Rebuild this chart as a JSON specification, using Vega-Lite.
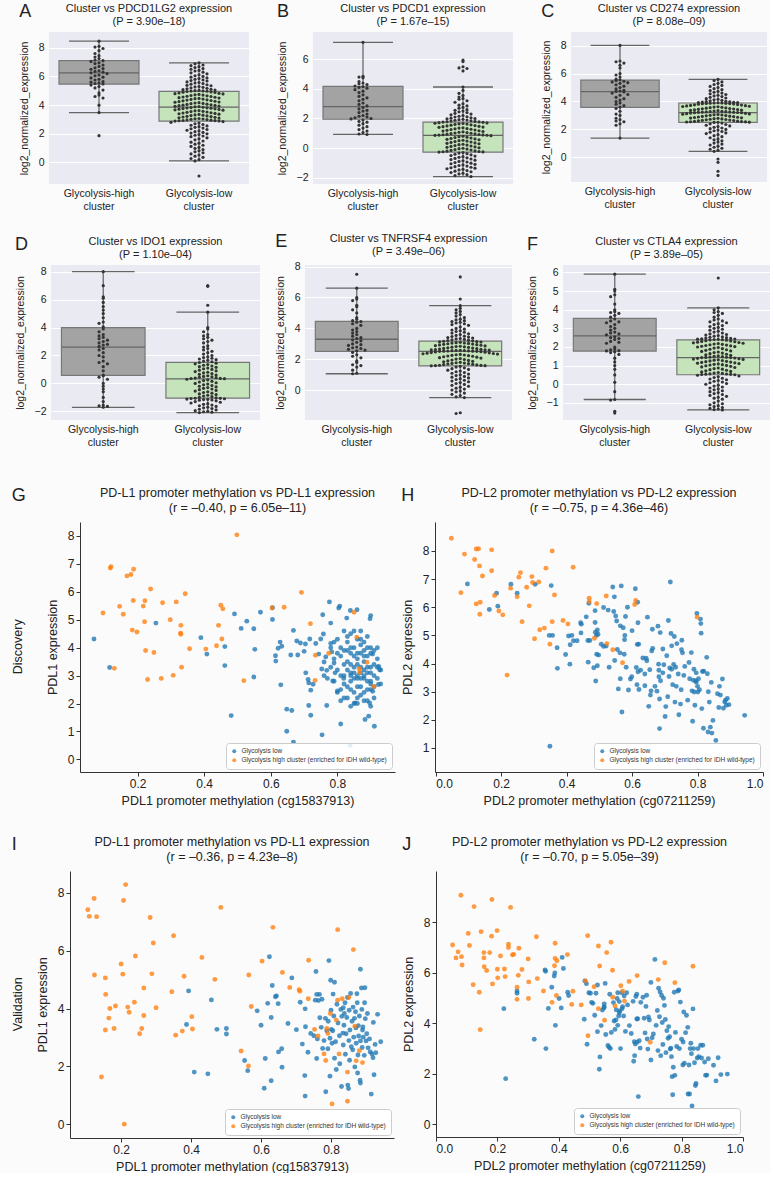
{
"$schema":"https://vega.github.io/schema/vega-lite/v6.json",
"background":"#fbfbfb",
"padding":{"left":4,"top":3,"right":0,"bottom":0},
"config":{"font":"Liberation Sans","view":{"stroke":null},
"axis":{"labelFont":"Liberation Sans","titleFont":"Liberation Sans","titleFontWeight":"normal","labelColor":"#222","titleColor":"#222","domainColor":"#333","tickColor":"#333","grid":false},
"title":{"font":"Liberation Sans","fontWeight":"normal","color":"#222","subtitleColor":"#222","subtitleFont":"Liberation Sans"},
"legend":{"orient":"bottom-right","offset":3,"fillColor":"rgba(255,255,255,0.85)","strokeColor":"#cccccc","padding":5,"cornerRadius":3,"labelFontSize":6.5,"labelFont":"Liberation Sans","symbolSize":16,"symbolType":"circle","rowPadding":2,"labelLimit":300,"labelColor":"#333","symbolStrokeWidth":0}},
"datasets":{
"S":[
{"p":"A","g":"h","lo":3.48,"q1":5.47,"md":6.25,"q3":7.1,"hi":8.46},
{"p":"A","g":"l","lo":0.11,"q1":2.88,"md":3.86,"q3":4.96,"hi":6.95},
{"p":"B","g":"h","lo":0.92,"q1":1.95,"md":2.8,"q3":4.17,"hi":7.15},
{"p":"B","g":"l","lo":-1.93,"q1":-0.28,"md":0.86,"q3":1.75,"hi":4.13},
{"p":"C","g":"h","lo":1.38,"q1":3.58,"md":4.7,"q3":5.53,"hi":8.02},
{"p":"C","g":"l","lo":0.43,"q1":2.5,"md":3.2,"q3":3.89,"hi":5.58},
{"p":"D","g":"h","lo":-1.71,"q1":0.57,"md":2.6,"q3":4.0,"hi":8.0},
{"p":"D","g":"l","lo":-2.09,"q1":-1.05,"md":0.33,"q3":1.51,"hi":5.1},
{"p":"E","g":"h","lo":1.07,"q1":2.52,"md":3.3,"q3":4.46,"hi":6.6},
{"p":"E","g":"l","lo":-0.47,"q1":1.58,"md":2.52,"q3":3.18,"hi":5.47},
{"p":"F","g":"h","lo":-0.82,"q1":1.78,"md":2.6,"q3":3.54,"hi":5.91},
{"p":"F","g":"l","lo":-1.38,"q1":0.51,"md":1.43,"q3":2.38,"hi":4.1}],
"Z":[{"d":0}],
"A":[
{"g":"h","v":8.46},{"g":"h","v":8.1},{"g":"h","v":8.05},{"g":"h","v":7.95},{"g":"h","v":7.8},{"g":"h","v":7.6},{"g":"h","v":7.45},{"g":"h","v":7.35},{"g":"h","v":7.25},{"g":"h","v":7.15},{"g":"h","v":7.1},{"g":"h","v":7.05},{"g":"h","v":6.95},{"g":"h","v":6.9},{"g":"h","v":6.8},{"g":"h","v":6.7},{"g":"h","v":6.6},{"g":"h","v":6.55},{"g":"h","v":6.5},{"g":"h","v":6.4},{"g":"h","v":6.35},{"g":"h","v":6.3},{"g":"h","v":6.25},{"g":"h","v":6.2},{"g":"h","v":6.1},{"g":"h","v":6.05},{"g":"h","v":5.95},{"g":"h","v":5.9},{"g":"h","v":5.8},{"g":"h","v":5.75},{"g":"h","v":5.65},{"g":"h","v":5.6},{"g":"h","v":5.55},{"g":"h","v":5.5},{"g":"h","v":5.48},{"g":"h","v":5.4},{"g":"h","v":5.3},{"g":"h","v":5.2},{"g":"h","v":5.05},{"g":"h","v":4.85},{"g":"h","v":4.7},{"g":"h","v":4.6},{"g":"h","v":4.5},{"g":"h","v":4.0},{"g":"h","v":3.48},{"g":"h","v":1.87},
{"g":"l","v":6.95},{"g":"l","v":6.88},{"g":"l","v":6.8},{"g":"l","v":6.75},{"g":"l","v":6.68},{"g":"l","v":6.62},{"g":"l","v":6.55},{"g":"l","v":6.5},{"g":"l","v":6.42},{"g":"l","v":6.38},{"g":"l","v":6.3},{"g":"l","v":6.25},{"g":"l","v":6.18},{"g":"l","v":6.12},{"g":"l","v":6.05},{"g":"l","v":6.0},{"g":"l","v":5.95},{"g":"l","v":5.9},{"g":"l","v":5.85},{"g":"l","v":5.8},{"g":"l","v":5.76},{"g":"l","v":5.72},{"g":"l","v":5.68},{"g":"l","v":5.62},{"g":"l","v":5.58},{"g":"l","v":5.55},{"g":"l","v":5.5},{"g":"l","v":5.46},{"g":"l","v":5.42},{"g":"l","v":5.38},{"g":"l","v":5.35},{"g":"l","v":5.3},{"g":"l","v":5.27},{"g":"l","v":5.24},{"g":"l","v":5.2},{"g":"l","v":5.17},{"g":"l","v":5.14},{"g":"l","v":5.11},{"g":"l","v":5.08},{"g":"l","v":5.05},{"g":"l","v":5.03},{"g":"l","v":5.01},{"g":"l","v":4.99},{"g":"l","v":4.98},{"g":"l","v":4.97},
{"g":"l","v":4.95},{"g":"l","v":4.92},{"g":"l","v":4.9},{"g":"l","v":4.88},{"g":"l","v":4.85},{"g":"l","v":4.82},{"g":"l","v":4.8},{"g":"l","v":4.78},{"g":"l","v":4.75},{"g":"l","v":4.72},{"g":"l","v":4.7},{"g":"l","v":4.67},{"g":"l","v":4.65},{"g":"l","v":4.62},{"g":"l","v":4.6},{"g":"l","v":4.57},{"g":"l","v":4.55},{"g":"l","v":4.52},{"g":"l","v":4.5},{"g":"l","v":4.47},{"g":"l","v":4.45},{"g":"l","v":4.42},{"g":"l","v":4.4},{"g":"l","v":4.37},{"g":"l","v":4.35},{"g":"l","v":4.32},{"g":"l","v":4.3},{"g":"l","v":4.27},{"g":"l","v":4.25},{"g":"l","v":4.22},{"g":"l","v":4.2},{"g":"l","v":4.17},{"g":"l","v":4.15},{"g":"l","v":4.12},{"g":"l","v":4.1},{"g":"l","v":4.07},{"g":"l","v":4.05},{"g":"l","v":4.02},{"g":"l","v":4.0},{"g":"l","v":3.98},{"g":"l","v":3.96},{"g":"l","v":3.94},{"g":"l","v":3.92},{"g":"l","v":3.9},{"g":"l","v":3.88},
{"g":"l","v":3.85},{"g":"l","v":3.83},{"g":"l","v":3.81},{"g":"l","v":3.8},{"g":"l","v":3.78},{"g":"l","v":3.76},{"g":"l","v":3.74},{"g":"l","v":3.72},{"g":"l","v":3.7},{"g":"l","v":3.67},{"g":"l","v":3.65},{"g":"l","v":3.62},{"g":"l","v":3.6},{"g":"l","v":3.57},{"g":"l","v":3.55},{"g":"l","v":3.52},{"g":"l","v":3.5},{"g":"l","v":3.47},{"g":"l","v":3.45},{"g":"l","v":3.42},{"g":"l","v":3.4},{"g":"l","v":3.37},{"g":"l","v":3.35},{"g":"l","v":3.32},{"g":"l","v":3.3},{"g":"l","v":3.27},{"g":"l","v":3.25},{"g":"l","v":3.22},{"g":"l","v":3.2},{"g":"l","v":3.17},{"g":"l","v":3.15},{"g":"l","v":3.12},{"g":"l","v":3.1},{"g":"l","v":3.07},{"g":"l","v":3.05},{"g":"l","v":3.03},{"g":"l","v":3.01},{"g":"l","v":2.99},{"g":"l","v":2.97},{"g":"l","v":2.95},{"g":"l","v":2.93},{"g":"l","v":2.92},{"g":"l","v":2.91},{"g":"l","v":2.9},{"g":"l","v":2.89},
{"g":"l","v":2.85},{"g":"l","v":2.8},{"g":"l","v":2.75},{"g":"l","v":2.7},{"g":"l","v":2.65},{"g":"l","v":2.6},{"g":"l","v":2.55},{"g":"l","v":2.5},{"g":"l","v":2.45},{"g":"l","v":2.4},{"g":"l","v":2.35},{"g":"l","v":2.3},{"g":"l","v":2.25},{"g":"l","v":2.2},{"g":"l","v":2.15},{"g":"l","v":2.1},{"g":"l","v":2.05},{"g":"l","v":2.0},{"g":"l","v":1.95},{"g":"l","v":1.9},{"g":"l","v":1.85},{"g":"l","v":1.8},{"g":"l","v":1.72},{"g":"l","v":1.65},{"g":"l","v":1.58},{"g":"l","v":1.5},{"g":"l","v":1.42},{"g":"l","v":1.35},{"g":"l","v":1.28},{"g":"l","v":1.2},{"g":"l","v":1.12},{"g":"l","v":1.05},{"g":"l","v":0.98},{"g":"l","v":0.9},{"g":"l","v":0.82},{"g":"l","v":0.75},{"g":"l","v":0.68},{"g":"l","v":0.6},{"g":"l","v":0.52},{"g":"l","v":0.44},{"g":"l","v":0.36},{"g":"l","v":0.28},{"g":"l","v":0.2},{"g":"l","v":0.11},{"g":"l","v":-0.94}],
"B":[
{"g":"h","v":7.15},{"g":"h","v":4.85},{"g":"h","v":4.8},{"g":"h","v":4.75},{"g":"h","v":4.5},{"g":"h","v":4.4},{"g":"h","v":4.35},{"g":"h","v":4.3},{"g":"h","v":4.2},{"g":"h","v":4.15},{"g":"h","v":4.1},{"g":"h","v":4.05},{"g":"h","v":3.95},{"g":"h","v":3.85},{"g":"h","v":3.75},{"g":"h","v":3.6},{"g":"h","v":3.5},{"g":"h","v":3.4},{"g":"h","v":3.3},{"g":"h","v":3.2},{"g":"h","v":3.05},{"g":"h","v":2.95},{"g":"h","v":2.85},{"g":"h","v":2.75},{"g":"h","v":2.65},{"g":"h","v":2.55},{"g":"h","v":2.5},{"g":"h","v":2.4},{"g":"h","v":2.3},{"g":"h","v":2.2},{"g":"h","v":2.15},{"g":"h","v":2.1},{"g":"h","v":2.05},{"g":"h","v":2.0},{"g":"h","v":1.97},{"g":"h","v":1.9},{"g":"h","v":1.8},{"g":"h","v":1.75},{"g":"h","v":1.65},{"g":"h","v":1.55},{"g":"h","v":1.45},{"g":"h","v":1.35},{"g":"h","v":1.25},{"g":"h","v":1.15},{"g":"h","v":1.05},{"g":"h","v":0.95},{"g":"h","v":0.92},
{"g":"l","v":5.95},{"g":"l","v":5.85},{"g":"l","v":5.5},{"g":"l","v":5.42},{"g":"l","v":5.38},{"g":"l","v":5.22},
{"g":"l","v":4.13},{"g":"l","v":3.9},{"g":"l","v":3.7},{"g":"l","v":3.55},{"g":"l","v":3.45},{"g":"l","v":3.35},{"g":"l","v":3.3},{"g":"l","v":3.2},{"g":"l","v":3.1},{"g":"l","v":3.0},{"g":"l","v":2.9},{"g":"l","v":2.85},{"g":"l","v":2.75},{"g":"l","v":2.7},{"g":"l","v":2.6},{"g":"l","v":2.55},{"g":"l","v":2.5},{"g":"l","v":2.45},{"g":"l","v":2.4},{"g":"l","v":2.35},{"g":"l","v":2.3},{"g":"l","v":2.25},{"g":"l","v":2.2},{"g":"l","v":2.15},{"g":"l","v":2.12},{"g":"l","v":2.1},{"g":"l","v":2.05},{"g":"l","v":2.02},{"g":"l","v":2.0},{"g":"l","v":1.97},{"g":"l","v":1.95},{"g":"l","v":1.92},{"g":"l","v":1.9},{"g":"l","v":1.88},{"g":"l","v":1.85},{"g":"l","v":1.83},{"g":"l","v":1.8},{"g":"l","v":1.78},{"g":"l","v":1.77},{"g":"l","v":1.76},
{"g":"l","v":1.74},{"g":"l","v":1.72},{"g":"l","v":1.7},{"g":"l","v":1.68},{"g":"l","v":1.66},{"g":"l","v":1.64},{"g":"l","v":1.62},{"g":"l","v":1.6},{"g":"l","v":1.57},{"g":"l","v":1.55},{"g":"l","v":1.52},{"g":"l","v":1.5},{"g":"l","v":1.47},{"g":"l","v":1.45},{"g":"l","v":1.42},{"g":"l","v":1.4},{"g":"l","v":1.37},{"g":"l","v":1.35},{"g":"l","v":1.32},{"g":"l","v":1.3},{"g":"l","v":1.27},{"g":"l","v":1.25},{"g":"l","v":1.22},{"g":"l","v":1.2},{"g":"l","v":1.17},{"g":"l","v":1.15},{"g":"l","v":1.12},{"g":"l","v":1.1},{"g":"l","v":1.07},{"g":"l","v":1.05},{"g":"l","v":1.02},{"g":"l","v":1.0},{"g":"l","v":0.98},{"g":"l","v":0.96},{"g":"l","v":0.94},{"g":"l","v":0.92},{"g":"l","v":0.9},{"g":"l","v":0.89},{"g":"l","v":0.88},{"g":"l","v":0.87},{"g":"l","v":0.86},
{"g":"l","v":0.84},{"g":"l","v":0.8},{"g":"l","v":0.77},{"g":"l","v":0.74},{"g":"l","v":0.71},{"g":"l","v":0.68},{"g":"l","v":0.65},{"g":"l","v":0.62},{"g":"l","v":0.59},{"g":"l","v":0.56},{"g":"l","v":0.53},{"g":"l","v":0.5},{"g":"l","v":0.47},{"g":"l","v":0.44},{"g":"l","v":0.41},{"g":"l","v":0.38},{"g":"l","v":0.35},{"g":"l","v":0.32},{"g":"l","v":0.29},{"g":"l","v":0.26},{"g":"l","v":0.23},{"g":"l","v":0.2},{"g":"l","v":0.17},{"g":"l","v":0.14},{"g":"l","v":0.11},{"g":"l","v":0.08},{"g":"l","v":0.05},{"g":"l","v":0.02},{"g":"l","v":-0.01},{"g":"l","v":-0.04},{"g":"l","v":-0.07},{"g":"l","v":-0.1},{"g":"l","v":-0.13},{"g":"l","v":-0.16},{"g":"l","v":-0.19},{"g":"l","v":-0.21},{"g":"l","v":-0.23},{"g":"l","v":-0.25},{"g":"l","v":-0.26},{"g":"l","v":-0.27},
{"g":"l","v":-0.3},{"g":"l","v":-0.34},{"g":"l","v":-0.38},{"g":"l","v":-0.42},{"g":"l","v":-0.46},{"g":"l","v":-0.5},{"g":"l","v":-0.54},{"g":"l","v":-0.58},{"g":"l","v":-0.62},{"g":"l","v":-0.66},{"g":"l","v":-0.7},{"g":"l","v":-0.74},{"g":"l","v":-0.78},{"g":"l","v":-0.82},{"g":"l","v":-0.86},{"g":"l","v":-0.9},{"g":"l","v":-0.94},{"g":"l","v":-0.98},{"g":"l","v":-1.02},{"g":"l","v":-1.06},{"g":"l","v":-1.1},{"g":"l","v":-1.14},{"g":"l","v":-1.18},{"g":"l","v":-1.22},{"g":"l","v":-1.26},{"g":"l","v":-1.3},{"g":"l","v":-1.33},{"g":"l","v":-1.36},{"g":"l","v":-1.4},{"g":"l","v":-1.44},{"g":"l","v":-1.48},{"g":"l","v":-1.52},{"g":"l","v":-1.56},{"g":"l","v":-1.6},{"g":"l","v":-1.65},{"g":"l","v":-1.7},{"g":"l","v":-1.75},{"g":"l","v":-1.8},{"g":"l","v":-1.86},{"g":"l","v":-1.93}],
"C":[
{"g":"h","v":8.02},{"g":"h","v":6.9},{"g":"h","v":6.85},{"g":"h","v":6.75},{"g":"h","v":6.6},{"g":"h","v":6.4},{"g":"h","v":6.0},{"g":"h","v":5.9},{"g":"h","v":5.75},{"g":"h","v":5.6},{"g":"h","v":5.55},{"g":"h","v":5.5},{"g":"h","v":5.45},{"g":"h","v":5.4},{"g":"h","v":5.35},{"g":"h","v":5.3},{"g":"h","v":5.2},{"g":"h","v":5.1},{"g":"h","v":5.0},{"g":"h","v":4.9},{"g":"h","v":4.8},{"g":"h","v":4.75},{"g":"h","v":4.72},{"g":"h","v":4.68},{"g":"h","v":4.6},{"g":"h","v":4.5},{"g":"h","v":4.45},{"g":"h","v":4.3},{"g":"h","v":4.2},{"g":"h","v":4.1},{"g":"h","v":4.0},{"g":"h","v":3.9},{"g":"h","v":3.8},{"g":"h","v":3.7},{"g":"h","v":3.6},{"g":"h","v":3.5},{"g":"h","v":3.3},{"g":"h","v":3.1},{"g":"h","v":3.0},{"g":"h","v":2.8},{"g":"h","v":2.7},{"g":"h","v":2.6},{"g":"h","v":2.55},{"g":"h","v":2.4},{"g":"h","v":2.3},{"g":"h","v":1.38},
{"g":"l","v":5.58},{"g":"l","v":5.5},{"g":"l","v":5.4},{"g":"l","v":5.3},{"g":"l","v":5.22},{"g":"l","v":5.15},{"g":"l","v":5.08},{"g":"l","v":5.0},{"g":"l","v":4.92},{"g":"l","v":4.85},{"g":"l","v":4.78},{"g":"l","v":4.72},{"g":"l","v":4.66},{"g":"l","v":4.6},{"g":"l","v":4.55},{"g":"l","v":4.5},{"g":"l","v":4.45},{"g":"l","v":4.4},{"g":"l","v":4.35},{"g":"l","v":4.3},{"g":"l","v":4.25},{"g":"l","v":4.2},{"g":"l","v":4.16},{"g":"l","v":4.12},{"g":"l","v":4.08},{"g":"l","v":4.05},{"g":"l","v":4.02},{"g":"l","v":4.0},{"g":"l","v":3.98},{"g":"l","v":3.96},{"g":"l","v":3.94},{"g":"l","v":3.93},{"g":"l","v":3.92},{"g":"l","v":3.91},{"g":"l","v":3.9},{"g":"l","v":3.9},
{"g":"l","v":3.88},{"g":"l","v":3.87},{"g":"l","v":3.86},{"g":"l","v":3.85},{"g":"l","v":3.84},{"g":"l","v":3.82},{"g":"l","v":3.8},{"g":"l","v":3.78},{"g":"l","v":3.76},{"g":"l","v":3.74},{"g":"l","v":3.72},{"g":"l","v":3.7},{"g":"l","v":3.68},{"g":"l","v":3.66},{"g":"l","v":3.64},{"g":"l","v":3.62},{"g":"l","v":3.6},{"g":"l","v":3.58},{"g":"l","v":3.56},{"g":"l","v":3.54},{"g":"l","v":3.52},{"g":"l","v":3.5},{"g":"l","v":3.48},{"g":"l","v":3.46},{"g":"l","v":3.44},{"g":"l","v":3.42},{"g":"l","v":3.4},{"g":"l","v":3.38},{"g":"l","v":3.36},{"g":"l","v":3.34},{"g":"l","v":3.32},{"g":"l","v":3.3},{"g":"l","v":3.28},{"g":"l","v":3.27},{"g":"l","v":3.26},{"g":"l","v":3.25},{"g":"l","v":3.24},{"g":"l","v":3.23},{"g":"l","v":3.22},{"g":"l","v":3.21},{"g":"l","v":3.2},
{"g":"l","v":3.19},{"g":"l","v":3.17},{"g":"l","v":3.15},{"g":"l","v":3.13},{"g":"l","v":3.11},{"g":"l","v":3.09},{"g":"l","v":3.07},{"g":"l","v":3.05},{"g":"l","v":3.03},{"g":"l","v":3.01},{"g":"l","v":2.99},{"g":"l","v":2.97},{"g":"l","v":2.95},{"g":"l","v":2.93},{"g":"l","v":2.91},{"g":"l","v":2.89},{"g":"l","v":2.87},{"g":"l","v":2.85},{"g":"l","v":2.83},{"g":"l","v":2.81},{"g":"l","v":2.79},{"g":"l","v":2.77},{"g":"l","v":2.75},{"g":"l","v":2.73},{"g":"l","v":2.71},{"g":"l","v":2.69},{"g":"l","v":2.67},{"g":"l","v":2.65},{"g":"l","v":2.63},{"g":"l","v":2.61},{"g":"l","v":2.59},{"g":"l","v":2.57},{"g":"l","v":2.56},{"g":"l","v":2.55},{"g":"l","v":2.54},{"g":"l","v":2.53},{"g":"l","v":2.52},{"g":"l","v":2.51},{"g":"l","v":2.5},
{"g":"l","v":2.45},{"g":"l","v":2.4},{"g":"l","v":2.35},{"g":"l","v":2.3},{"g":"l","v":2.25},{"g":"l","v":2.2},{"g":"l","v":2.15},{"g":"l","v":2.1},{"g":"l","v":2.05},{"g":"l","v":2.0},{"g":"l","v":1.95},{"g":"l","v":1.9},{"g":"l","v":1.85},{"g":"l","v":1.8},{"g":"l","v":1.75},{"g":"l","v":1.7},{"g":"l","v":1.62},{"g":"l","v":1.55},{"g":"l","v":1.48},{"g":"l","v":1.4},{"g":"l","v":1.32},{"g":"l","v":1.25},{"g":"l","v":1.18},{"g":"l","v":1.1},{"g":"l","v":1.02},{"g":"l","v":0.95},{"g":"l","v":0.88},{"g":"l","v":0.8},{"g":"l","v":0.72},{"g":"l","v":0.65},{"g":"l","v":0.58},{"g":"l","v":0.5},{"g":"l","v":0.43},{"g":"l","v":-0.12},{"g":"l","v":-0.36},{"g":"l","v":-1.0},{"g":"l","v":-1.3}],
"D":[
{"g":"h","v":8.0},{"g":"h","v":7.0},{"g":"h","v":6.2},{"g":"h","v":6.1},{"g":"h","v":5.8},{"g":"h","v":5.5},{"g":"h","v":5.25},{"g":"h","v":5.0},{"g":"h","v":4.7},{"g":"h","v":4.4},{"g":"h","v":4.3},{"g":"h","v":4.05},{"g":"h","v":3.9},{"g":"h","v":3.7},{"g":"h","v":3.5},{"g":"h","v":3.4},{"g":"h","v":3.3},{"g":"h","v":3.2},{"g":"h","v":3.1},{"g":"h","v":3.0},{"g":"h","v":2.9},{"g":"h","v":2.8},{"g":"h","v":2.75},{"g":"h","v":2.65},{"g":"h","v":2.5},{"g":"h","v":2.4},{"g":"h","v":2.2},{"g":"h","v":2.0},{"g":"h","v":1.9},{"g":"h","v":1.6},{"g":"h","v":1.5},{"g":"h","v":1.4},{"g":"h","v":1.2},{"g":"h","v":0.9},{"g":"h","v":0.6},{"g":"h","v":0.55},{"g":"h","v":0.45},{"g":"h","v":0.3},{"g":"h","v":0.0},{"g":"h","v":-0.2},{"g":"h","v":-0.4},{"g":"h","v":-0.6},{"g":"h","v":-1.0},{"g":"h","v":-1.3},{"g":"h","v":-1.55},{"g":"h","v":-1.6},{"g":"h","v":-1.65},{"g":"h","v":-1.71},
{"g":"l","v":7.0},{"g":"l","v":6.95},{"g":"l","v":5.6},
{"g":"l","v":5.1},{"g":"l","v":4.0},{"g":"l","v":3.9},{"g":"l","v":3.7},{"g":"l","v":3.5},{"g":"l","v":3.4},{"g":"l","v":3.3},{"g":"l","v":3.2},{"g":"l","v":3.1},{"g":"l","v":3.0},{"g":"l","v":2.9},{"g":"l","v":2.7},{"g":"l","v":2.6},{"g":"l","v":2.5},{"g":"l","v":2.4},{"g":"l","v":2.3},{"g":"l","v":2.2},{"g":"l","v":2.1},{"g":"l","v":2.0},{"g":"l","v":1.9},{"g":"l","v":1.85},{"g":"l","v":1.8},{"g":"l","v":1.75},{"g":"l","v":1.7},{"g":"l","v":1.65},{"g":"l","v":1.6},{"g":"l","v":1.55},
{"g":"l","v":1.5},{"g":"l","v":1.45},{"g":"l","v":1.4},{"g":"l","v":1.35},{"g":"l","v":1.3},{"g":"l","v":1.25},{"g":"l","v":1.2},{"g":"l","v":1.15},{"g":"l","v":1.1},{"g":"l","v":1.05},{"g":"l","v":1.0},{"g":"l","v":0.95},{"g":"l","v":0.9},{"g":"l","v":0.85},{"g":"l","v":0.8},{"g":"l","v":0.75},{"g":"l","v":0.7},{"g":"l","v":0.65},{"g":"l","v":0.6},{"g":"l","v":0.55},{"g":"l","v":0.5},{"g":"l","v":0.47},{"g":"l","v":0.44},{"g":"l","v":0.41},{"g":"l","v":0.38},{"g":"l","v":0.36},{"g":"l","v":0.35},{"g":"l","v":0.34},
{"g":"l","v":0.3},{"g":"l","v":0.25},{"g":"l","v":0.2},{"g":"l","v":0.15},{"g":"l","v":0.1},{"g":"l","v":0.05},{"g":"l","v":0.0},{"g":"l","v":-0.05},{"g":"l","v":-0.1},{"g":"l","v":-0.15},{"g":"l","v":-0.2},{"g":"l","v":-0.25},{"g":"l","v":-0.3},{"g":"l","v":-0.35},{"g":"l","v":-0.4},{"g":"l","v":-0.45},{"g":"l","v":-0.5},{"g":"l","v":-0.55},{"g":"l","v":-0.6},{"g":"l","v":-0.65},{"g":"l","v":-0.7},{"g":"l","v":-0.75},{"g":"l","v":-0.8},{"g":"l","v":-0.85},{"g":"l","v":-0.9},{"g":"l","v":-0.95},{"g":"l","v":-1.0},{"g":"l","v":-1.04},
{"g":"l","v":-1.06},{"g":"l","v":-1.07},{"g":"l","v":-1.08},{"g":"l","v":-1.1},{"g":"l","v":-1.12},{"g":"l","v":-1.14},{"g":"l","v":-1.16},{"g":"l","v":-1.18},{"g":"l","v":-1.2},{"g":"l","v":-1.25},{"g":"l","v":-1.3},{"g":"l","v":-1.35},{"g":"l","v":-1.4},{"g":"l","v":-1.45},{"g":"l","v":-1.5},{"g":"l","v":-1.55},{"g":"l","v":-1.6},{"g":"l","v":-1.65},{"g":"l","v":-1.7},{"g":"l","v":-1.75},{"g":"l","v":-1.8},{"g":"l","v":-1.85},{"g":"l","v":-1.9},{"g":"l","v":-1.95},{"g":"l","v":-2.0},{"g":"l","v":-2.03},{"g":"l","v":-2.06},{"g":"l","v":-2.09}],
"E":[
{"g":"h","v":7.5},{"g":"h","v":6.6},{"g":"h","v":6.0},{"g":"h","v":5.9},{"g":"h","v":5.8},{"g":"h","v":5.5},{"g":"h","v":5.4},{"g":"h","v":5.2},{"g":"h","v":5.0},{"g":"h","v":4.7},{"g":"h","v":4.6},{"g":"h","v":4.5},{"g":"h","v":4.45},{"g":"h","v":4.4},{"g":"h","v":4.3},{"g":"h","v":4.2},{"g":"h","v":4.0},{"g":"h","v":3.9},{"g":"h","v":3.8},{"g":"h","v":3.7},{"g":"h","v":3.6},{"g":"h","v":3.5},{"g":"h","v":3.4},{"g":"h","v":3.35},{"g":"h","v":3.25},{"g":"h","v":3.2},{"g":"h","v":3.1},{"g":"h","v":3.0},{"g":"h","v":2.95},{"g":"h","v":2.9},{"g":"h","v":2.8},{"g":"h","v":2.75},{"g":"h","v":2.7},{"g":"h","v":2.65},{"g":"h","v":2.6},{"g":"h","v":2.55},{"g":"h","v":2.45},{"g":"h","v":2.3},{"g":"h","v":2.2},{"g":"h","v":2.1},{"g":"h","v":1.9},{"g":"h","v":1.8},{"g":"h","v":1.65},{"g":"h","v":1.6},{"g":"h","v":1.5},{"g":"h","v":1.3},{"g":"h","v":1.1},{"g":"h","v":1.07},
{"g":"l","v":7.33},{"g":"l","v":5.9},
{"g":"l","v":5.47},{"g":"l","v":5.3},{"g":"l","v":5.2},{"g":"l","v":5.1},{"g":"l","v":5.0},{"g":"l","v":4.9},{"g":"l","v":4.8},{"g":"l","v":4.7},{"g":"l","v":4.6},{"g":"l","v":4.55},{"g":"l","v":4.5},{"g":"l","v":4.45},{"g":"l","v":4.4},{"g":"l","v":4.35},{"g":"l","v":4.3},{"g":"l","v":4.25},{"g":"l","v":4.2},{"g":"l","v":4.1},{"g":"l","v":4.0},{"g":"l","v":3.95},{"g":"l","v":3.9},{"g":"l","v":3.85},{"g":"l","v":3.8},{"g":"l","v":3.75},{"g":"l","v":3.7},{"g":"l","v":3.65},{"g":"l","v":3.6},{"g":"l","v":3.55},{"g":"l","v":3.5},{"g":"l","v":3.47},{"g":"l","v":3.44},{"g":"l","v":3.41},{"g":"l","v":3.38},{"g":"l","v":3.35},{"g":"l","v":3.32},{"g":"l","v":3.29},{"g":"l","v":3.26},{"g":"l","v":3.24},{"g":"l","v":3.22},{"g":"l","v":3.2},
{"g":"l","v":3.17},{"g":"l","v":3.15},{"g":"l","v":3.13},{"g":"l","v":3.12},{"g":"l","v":3.1},{"g":"l","v":3.08},{"g":"l","v":3.06},{"g":"l","v":3.05},{"g":"l","v":3.03},{"g":"l","v":3.01},{"g":"l","v":2.99},{"g":"l","v":2.97},{"g":"l","v":2.95},{"g":"l","v":2.93},{"g":"l","v":2.91},{"g":"l","v":2.89},{"g":"l","v":2.87},{"g":"l","v":2.85},{"g":"l","v":2.83},{"g":"l","v":2.81},{"g":"l","v":2.79},{"g":"l","v":2.77},{"g":"l","v":2.75},{"g":"l","v":2.73},{"g":"l","v":2.71},{"g":"l","v":2.69},{"g":"l","v":2.67},{"g":"l","v":2.65},{"g":"l","v":2.63},{"g":"l","v":2.62},{"g":"l","v":2.61},{"g":"l","v":2.6},{"g":"l","v":2.59},{"g":"l","v":2.58},{"g":"l","v":2.57},{"g":"l","v":2.56},{"g":"l","v":2.55},{"g":"l","v":2.54},{"g":"l","v":2.53},{"g":"l","v":2.53},{"g":"l","v":2.52},{"g":"l","v":2.52},
{"g":"l","v":2.5},{"g":"l","v":2.48},{"g":"l","v":2.46},{"g":"l","v":2.44},{"g":"l","v":2.42},{"g":"l","v":2.4},{"g":"l","v":2.38},{"g":"l","v":2.36},{"g":"l","v":2.34},{"g":"l","v":2.32},{"g":"l","v":2.3},{"g":"l","v":2.28},{"g":"l","v":2.26},{"g":"l","v":2.24},{"g":"l","v":2.22},{"g":"l","v":2.2},{"g":"l","v":2.17},{"g":"l","v":2.14},{"g":"l","v":2.11},{"g":"l","v":2.08},{"g":"l","v":2.05},{"g":"l","v":2.02},{"g":"l","v":1.99},{"g":"l","v":1.96},{"g":"l","v":1.93},{"g":"l","v":1.9},{"g":"l","v":1.87},{"g":"l","v":1.84},{"g":"l","v":1.81},{"g":"l","v":1.78},{"g":"l","v":1.76},{"g":"l","v":1.74},{"g":"l","v":1.72},{"g":"l","v":1.7},{"g":"l","v":1.68},{"g":"l","v":1.66},{"g":"l","v":1.64},{"g":"l","v":1.62},{"g":"l","v":1.61},{"g":"l","v":1.6},{"g":"l","v":1.59},{"g":"l","v":1.58},
{"g":"l","v":1.55},{"g":"l","v":1.5},{"g":"l","v":1.45},{"g":"l","v":1.4},{"g":"l","v":1.35},{"g":"l","v":1.3},{"g":"l","v":1.25},{"g":"l","v":1.2},{"g":"l","v":1.15},{"g":"l","v":1.1},{"g":"l","v":1.05},{"g":"l","v":1.0},{"g":"l","v":0.95},{"g":"l","v":0.9},{"g":"l","v":0.85},{"g":"l","v":0.8},{"g":"l","v":0.75},{"g":"l","v":0.7},{"g":"l","v":0.65},{"g":"l","v":0.6},{"g":"l","v":0.55},{"g":"l","v":0.5},{"g":"l","v":0.44},{"g":"l","v":0.38},{"g":"l","v":0.32},{"g":"l","v":0.26},{"g":"l","v":0.2},{"g":"l","v":0.14},{"g":"l","v":0.08},{"g":"l","v":0.02},{"g":"l","v":-0.04},{"g":"l","v":-0.1},{"g":"l","v":-0.18},{"g":"l","v":-0.26},{"g":"l","v":-0.34},{"g":"l","v":-0.42},{"g":"l","v":-0.47},{"g":"l","v":-1.45},{"g":"l","v":-1.5}],
"F":[
{"g":"h","v":5.91},{"g":"h","v":5.1},{"g":"h","v":5.0},{"g":"h","v":4.8},{"g":"h","v":4.7},{"g":"h","v":4.3},{"g":"h","v":4.0},{"g":"h","v":3.9},{"g":"h","v":3.85},{"g":"h","v":3.8},{"g":"h","v":3.7},{"g":"h","v":3.6},{"g":"h","v":3.5},{"g":"h","v":3.4},{"g":"h","v":3.35},{"g":"h","v":3.3},{"g":"h","v":3.2},{"g":"h","v":3.1},{"g":"h","v":3.0},{"g":"h","v":2.9},{"g":"h","v":2.8},{"g":"h","v":2.75},{"g":"h","v":2.7},{"g":"h","v":2.65},{"g":"h","v":2.55},{"g":"h","v":2.5},{"g":"h","v":2.45},{"g":"h","v":2.4},{"g":"h","v":2.3},{"g":"h","v":2.25},{"g":"h","v":2.2},{"g":"h","v":2.0},{"g":"h","v":1.9},{"g":"h","v":1.85},{"g":"h","v":1.8},{"g":"h","v":1.79},{"g":"h","v":1.75},{"g":"h","v":1.7},{"g":"h","v":1.6},{"g":"h","v":1.4},{"g":"h","v":1.2},{"g":"h","v":1.0},{"g":"h","v":0.8},{"g":"h","v":0.5},{"g":"h","v":0.1},{"g":"h","v":-0.4},{"g":"h","v":-0.82},{"g":"h","v":-0.85},{"g":"h","v":-1.45},{"g":"h","v":-1.55},
{"g":"l","v":5.7},
{"g":"l","v":4.1},{"g":"l","v":4.0},{"g":"l","v":3.9},{"g":"l","v":3.85},{"g":"l","v":3.8},{"g":"l","v":3.7},{"g":"l","v":3.6},{"g":"l","v":3.5},{"g":"l","v":3.45},{"g":"l","v":3.4},{"g":"l","v":3.35},{"g":"l","v":3.3},{"g":"l","v":3.25},{"g":"l","v":3.2},{"g":"l","v":3.15},{"g":"l","v":3.1},{"g":"l","v":3.05},{"g":"l","v":3.0},{"g":"l","v":2.95},{"g":"l","v":2.9},{"g":"l","v":2.85},{"g":"l","v":2.8},{"g":"l","v":2.75},{"g":"l","v":2.7},{"g":"l","v":2.67},{"g":"l","v":2.64},{"g":"l","v":2.61},{"g":"l","v":2.58},{"g":"l","v":2.55},{"g":"l","v":2.52},{"g":"l","v":2.5},{"g":"l","v":2.48},{"g":"l","v":2.46},{"g":"l","v":2.44},{"g":"l","v":2.43},{"g":"l","v":2.42},{"g":"l","v":2.41},{"g":"l","v":2.4},{"g":"l","v":2.39},{"g":"l","v":2.38},
{"g":"l","v":2.36},{"g":"l","v":2.34},{"g":"l","v":2.32},{"g":"l","v":2.3},{"g":"l","v":2.28},{"g":"l","v":2.26},{"g":"l","v":2.24},{"g":"l","v":2.22},{"g":"l","v":2.2},{"g":"l","v":2.18},{"g":"l","v":2.16},{"g":"l","v":2.14},{"g":"l","v":2.12},{"g":"l","v":2.1},{"g":"l","v":2.08},{"g":"l","v":2.06},{"g":"l","v":2.04},{"g":"l","v":2.02},{"g":"l","v":2.0},{"g":"l","v":1.97},{"g":"l","v":1.94},{"g":"l","v":1.91},{"g":"l","v":1.88},{"g":"l","v":1.85},{"g":"l","v":1.82},{"g":"l","v":1.79},{"g":"l","v":1.76},{"g":"l","v":1.73},{"g":"l","v":1.7},{"g":"l","v":1.67},{"g":"l","v":1.64},{"g":"l","v":1.61},{"g":"l","v":1.58},{"g":"l","v":1.55},{"g":"l","v":1.52},{"g":"l","v":1.5},{"g":"l","v":1.48},{"g":"l","v":1.46},{"g":"l","v":1.45},{"g":"l","v":1.44},{"g":"l","v":1.43},{"g":"l","v":1.43},
{"g":"l","v":1.41},{"g":"l","v":1.39},{"g":"l","v":1.37},{"g":"l","v":1.35},{"g":"l","v":1.33},{"g":"l","v":1.31},{"g":"l","v":1.29},{"g":"l","v":1.27},{"g":"l","v":1.25},{"g":"l","v":1.23},{"g":"l","v":1.21},{"g":"l","v":1.19},{"g":"l","v":1.17},{"g":"l","v":1.15},{"g":"l","v":1.13},{"g":"l","v":1.11},{"g":"l","v":1.09},{"g":"l","v":1.07},{"g":"l","v":1.05},{"g":"l","v":1.03},{"g":"l","v":1.01},{"g":"l","v":0.99},{"g":"l","v":0.96},{"g":"l","v":0.93},{"g":"l","v":0.9},{"g":"l","v":0.87},{"g":"l","v":0.84},{"g":"l","v":0.81},{"g":"l","v":0.78},{"g":"l","v":0.75},{"g":"l","v":0.72},{"g":"l","v":0.69},{"g":"l","v":0.66},{"g":"l","v":0.63},{"g":"l","v":0.6},{"g":"l","v":0.58},{"g":"l","v":0.56},{"g":"l","v":0.55},{"g":"l","v":0.54},{"g":"l","v":0.53},{"g":"l","v":0.52},{"g":"l","v":0.51},
{"g":"l","v":0.48},{"g":"l","v":0.44},{"g":"l","v":0.4},{"g":"l","v":0.36},{"g":"l","v":0.32},{"g":"l","v":0.28},{"g":"l","v":0.24},{"g":"l","v":0.2},{"g":"l","v":0.16},{"g":"l","v":0.12},{"g":"l","v":0.08},{"g":"l","v":0.04},{"g":"l","v":0.0},{"g":"l","v":-0.05},{"g":"l","v":-0.1},{"g":"l","v":-0.15},{"g":"l","v":-0.2},{"g":"l","v":-0.25},{"g":"l","v":-0.3},{"g":"l","v":-0.35},{"g":"l","v":-0.4},{"g":"l","v":-0.45},{"g":"l","v":-0.5},{"g":"l","v":-0.55},{"g":"l","v":-0.6},{"g":"l","v":-0.65},{"g":"l","v":-0.7},{"g":"l","v":-0.75},{"g":"l","v":-0.8},{"g":"l","v":-0.9},{"g":"l","v":-1.0},{"g":"l","v":-1.05},{"g":"l","v":-1.1},{"g":"l","v":-1.15},{"g":"l","v":-1.2},{"g":"l","v":-1.25},{"g":"l","v":-1.3},{"g":"l","v":-1.33},{"g":"l","v":-1.36},{"g":"l","v":-1.38}],
"G":[
{"c":"l","x":0.069,"y":4.31},{"c":"l","x":0.116,"y":3.29},{"c":"l","x":0.255,"y":4.88},{"c":"l","x":0.39,"y":4.36},{"c":"l","x":0.408,"y":3.77},{"c":"l","x":0.462,"y":4.04},{"c":"l","x":0.462,"y":3.36},{"c":"l","x":0.481,"y":1.57},{"c":"l","x":0.491,"y":5.21},{"c":"l","x":0.511,"y":4.69},{"c":"l","x":0.528,"y":4.95},{"c":"l","x":0.549,"y":4.68},{"c":"l","x":0.549,"y":2.95},{"c":"l","x":0.552,"y":3.94},{"c":"l","x":0.569,"y":5.27},{"c":"l","x":0.605,"y":5.01},{"c":"l","x":0.605,"y":5.43},{"c":"l","x":0.614,"y":3.71},{"c":"l","x":0.615,"y":3.52},{"c":"l","x":0.622,"y":3.98},{"c":"l","x":0.628,"y":4.2},{"c":"l","x":0.633,"y":4.05},{"c":"l","x":0.63,"y":2.67},{"c":"l","x":0.648,"y":1.8},{"c":"l","x":0.648,"y":1.01},{"c":"l","x":0.663,"y":1.75},{"c":"l","x":0.668,"y":0.62},{"c":"l","x":0.668,"y":4.62},{"c":"l","x":0.66,"y":3.74},{"c":"l","x":0.678,"y":4.24},{"c":"l","x":0.681,"y":3.74},{"c":"l","x":0.689,"y":4.17},{"c":"l","x":0.7,"y":3.87},{"c":"l","x":0.704,"y":4.13},{"c":"l","x":0.705,"y":3.1},{"c":"l","x":0.712,"y":2.86},{"c":"l","x":0.714,"y":2.74},{"c":"l","x":0.717,"y":4.31},{"c":"l","x":0.72,"y":2.48},{"c":"l","x":0.714,"y":1.93},{"c":"l","x":0.72,"y":1.58},{"c":"l","x":0.727,"y":2.69},{"c":"l","x":0.735,"y":4.15},{"c":"l","x":0.744,"y":3.77},{"c":"l","x":0.75,"y":4.31},{"c":"l","x":0.753,"y":3.24},{"c":"l","x":0.756,"y":5.18},{"c":"l","x":0.758,"y":4.49},{"c":"l","x":0.76,"y":3.49},{"c":"l","x":0.765,"y":3.67},{"c":"l","x":0.768,"y":3.19},{"c":"l","x":0.768,"y":1.93},{"c":"l","x":0.754,"y":0.88},{"c":"l","x":0.776,"y":5.64},{"c":"l","x":0.78,"y":4.88},{"c":"l","x":0.78,"y":4.15},{"c":"l","x":0.783,"y":3.85},{"c":"l","x":0.786,"y":2.81},{"c":"l","x":0.79,"y":3.45},{"c":"l","x":0.793,"y":3.1},{"c":"l","x":0.8,"y":2.45},{"c":"l","x":0.804,"y":5.42},{"c":"l","x":0.807,"y":5.49},{"c":"l","x":0.81,"y":1.27},{"c":"l","x":0.819,"y":2.9},{"c":"l","x":0.828,"y":5.06},{"c":"l","x":0.838,"y":0.5},{"c":"l","x":0.839,"y":5.33},{"c":"l","x":0.859,"y":5.36},{"c":"l","x":0.9,"y":5.15},{"c":"l","x":0.898,"y":5.04},{"c":"l","x":0.911,"y":1.19},{"c":"l","x":0.894,"y":1.55},{"c":"l","x":0.883,"y":1.43},{"c":"l","x":0.906,"y":2.44},{"c":"l","x":0.897,"y":2.02},{"c":"l","x":0.924,"y":3.33},{"c":"l","x":0.923,"y":2.68},{"c":"l","x":0.927,"y":3.21},{"c":"l","x":0.906,"y":3.77},{"c":"l","x":0.853,"y":2.02},
{"c":"l","x":0.78,"y":4.0},{"c":"l","x":0.79,"y":3.6},{"c":"l","x":0.8,"y":3.2},{"c":"l","x":0.81,"y":2.5},{"c":"l","x":0.82,"y":3.9},{"c":"l","x":0.82,"y":3.0},{"c":"l","x":0.83,"y":4.2},{"c":"l","x":0.83,"y":3.5},{"c":"l","x":0.83,"y":2.2},{"c":"l","x":0.84,"y":3.8},{"c":"l","x":0.84,"y":2.8},{"c":"l","x":0.84,"y":4.5},{"c":"l","x":0.85,"y":3.3},{"c":"l","x":0.85,"y":2.0},{"c":"l","x":0.85,"y":4.0},{"c":"l","x":0.86,"y":3.6},{"c":"l","x":0.86,"y":2.6},{"c":"l","x":0.86,"y":3.0},{"c":"l","x":0.87,"y":4.1},{"c":"l","x":0.87,"y":3.3},{"c":"l","x":0.87,"y":2.3},{"c":"l","x":0.88,"y":3.9},{"c":"l","x":0.88,"y":2.9},{"c":"l","x":0.88,"y":3.5},{"c":"l","x":0.89,"y":4.4},{"c":"l","x":0.89,"y":3.1},{"c":"l","x":0.89,"y":2.5},{"c":"l","x":0.9,"y":3.8},{"c":"l","x":0.9,"y":2.8},{"c":"l","x":0.9,"y":4.0},{"c":"l","x":0.91,"y":3.4},{"c":"l","x":0.91,"y":2.2},{"c":"l","x":0.92,"y":3.6},{"c":"l","x":0.92,"y":2.9},{"c":"l","x":0.8,"y":4.3},{"c":"l","x":0.81,"y":3.7},{"c":"l","x":0.82,"y":2.7},{"c":"l","x":0.83,"y":3.2},{"c":"l","x":0.84,"y":3.1},{"c":"l","x":0.85,"y":3.7},{"c":"l","x":0.85,"y":2.4},{"c":"l","x":0.86,"y":4.3},{"c":"l","x":0.86,"y":2.2},{"c":"l","x":0.87,"y":2.9},{"c":"l","x":0.87,"y":3.8},{"c":"l","x":0.88,"y":2.4},{"c":"l","x":0.88,"y":3.2},{"c":"l","x":0.89,"y":3.7},{"c":"l","x":0.89,"y":2.1},{"c":"l","x":0.9,"y":3.3},{"c":"l","x":0.9,"y":2.5},{"c":"l","x":0.91,"y":3.9},{"c":"l","x":0.91,"y":3.0},{"c":"l","x":0.92,"y":4.0},{"c":"l","x":0.93,"y":3.2},{"c":"l","x":0.93,"y":2.7},{"c":"l","x":0.79,"y":2.8},{"c":"l","x":0.8,"y":2.4},{"c":"l","x":0.81,"y":4.0},{"c":"l","x":0.82,"y":3.4},{"c":"l","x":0.83,"y":2.6},{"c":"l","x":0.84,"y":4.0},{"c":"l","x":0.84,"y":3.4},{"c":"l","x":0.85,"y":2.9},{"c":"l","x":0.86,"y":3.4},{"c":"l","x":0.87,"y":2.6},{"c":"l","x":0.87,"y":4.6},{"c":"l","x":0.88,"y":4.2},{"c":"l","x":0.89,"y":2.8},{"c":"l","x":0.9,"y":3.1},{"c":"l","x":0.78,"y":3.3},{"c":"l","x":0.77,"y":2.9},{"c":"l","x":0.76,"y":3.0},{"c":"l","x":0.79,"y":4.2},{"c":"l","x":0.8,"y":3.8},{"c":"l","x":0.81,"y":3.0},{"c":"l","x":0.82,"y":2.2},{"c":"l","x":0.83,"y":3.9},{"c":"l","x":0.84,"y":2.5},{"c":"l","x":0.85,"y":3.1},{"c":"l","x":0.86,"y":2.9},{"c":"l","x":0.87,"y":3.1},{"c":"l","x":0.88,"y":3.7},{"c":"l","x":0.89,"y":3.3},{"c":"l","x":0.9,"y":2.7},{"c":"l","x":0.91,"y":2.6},{"c":"l","x":0.92,"y":3.3},{"c":"l","x":0.85,"y":4.6},{"c":"l","x":0.83,"y":4.4},{"c":"l","x":0.87,"y":4.3},{"c":"l","x":0.81,"y":2.1},{"c":"l","x":0.84,"y":1.9},{"c":"l","x":0.86,"y":2.0},{"c":"l","x":0.88,"y":2.1},{"c":"l","x":0.9,"y":1.9},{"c":"l","x":0.82,"y":4.6},{"c":"l","x":0.89,"y":4.0},{"c":"l","x":0.86,"y":3.8},{"c":"l","x":0.84,"y":3.0},{"c":"l","x":0.88,"y":3.0},
{"c":"h","x":0.498,"y":8.04},{"c":"h","x":0.118,"y":6.85},{"c":"h","x":0.12,"y":6.9},{"c":"h","x":0.168,"y":6.57},{"c":"h","x":0.18,"y":6.62},{"c":"h","x":0.188,"y":6.81},{"c":"h","x":0.239,"y":6.1},{"c":"h","x":0.343,"y":5.93},{"c":"h","x":0.692,"y":5.98},{"c":"h","x":0.096,"y":5.24},{"c":"h","x":0.146,"y":5.48},{"c":"h","x":0.157,"y":5.2},{"c":"h","x":0.187,"y":5.69},{"c":"h","x":0.217,"y":5.49},{"c":"h","x":0.222,"y":5.68},{"c":"h","x":0.275,"y":5.61},{"c":"h","x":0.316,"y":5.64},{"c":"h","x":0.45,"y":5.52},{"c":"h","x":0.456,"y":5.39},{"c":"h","x":0.604,"y":5.42},{"c":"h","x":0.64,"y":5.45},{"c":"h","x":0.221,"y":4.93},{"c":"h","x":0.298,"y":5.0},{"c":"h","x":0.33,"y":4.8},{"c":"h","x":0.443,"y":4.8},{"c":"h","x":0.719,"y":4.86},{"c":"h","x":0.85,"y":5.27},{"c":"h","x":0.184,"y":4.63},{"c":"h","x":0.198,"y":4.56},{"c":"h","x":0.329,"y":4.52},{"c":"h","x":0.33,"y":4.48},{"c":"h","x":0.453,"y":4.31},{"c":"h","x":0.858,"y":4.38},{"c":"h","x":0.224,"y":3.9},{"c":"h","x":0.249,"y":3.83},{"c":"h","x":0.356,"y":3.96},{"c":"h","x":0.405,"y":3.95},{"c":"h","x":0.437,"y":4.07},{"c":"h","x":0.734,"y":3.73},{"c":"h","x":0.774,"y":3.8},{"c":"h","x":0.23,"y":2.86},{"c":"h","x":0.271,"y":2.9},{"c":"h","x":0.307,"y":3.01},{"c":"h","x":0.332,"y":3.3},{"c":"h","x":0.13,"y":3.26},{"c":"h","x":0.519,"y":2.82},{"c":"h","x":0.733,"y":2.83},{"c":"h","x":0.867,"y":3.12},{"c":"h","x":0.889,"y":3.48},{"c":"h","x":0.865,"y":3.25},{"c":"h","x":0.91,"y":2.61}],
"H":[
{"c":"l","x":0.097,"y":6.83},{"c":"l","x":0.164,"y":5.92},{"c":"l","x":0.186,"y":6.5},{"c":"l","x":0.19,"y":6.04},{"c":"l","x":0.23,"y":6.82},{"c":"l","x":0.249,"y":6.5},{"c":"l","x":0.304,"y":6.82},{"c":"l","x":0.353,"y":6.77},{"c":"l","x":0.347,"y":5.0},{"c":"l","x":0.357,"y":5.0},{"c":"l","x":0.371,"y":4.56},{"c":"l","x":0.372,"y":3.83},{"c":"l","x":0.397,"y":4.32},{"c":"l","x":0.406,"y":4.98},{"c":"l","x":0.41,"y":3.98},{"c":"l","x":0.411,"y":4.67},{"c":"l","x":0.416,"y":5.0},{"c":"l","x":0.421,"y":4.81},{"c":"l","x":0.432,"y":4.81},{"c":"l","x":0.444,"y":5.09},{"c":"l","x":0.445,"y":5.4},{"c":"l","x":0.443,"y":5.45},{"c":"l","x":0.46,"y":5.66},{"c":"l","x":0.465,"y":4.82},{"c":"l","x":0.466,"y":4.05},{"c":"l","x":0.468,"y":6.14},{"c":"l","x":0.471,"y":4.82},{"c":"l","x":0.483,"y":3.85},{"c":"l","x":0.487,"y":5.46},{"c":"l","x":0.487,"y":5.88},{"c":"l","x":0.488,"y":5.11},{"c":"l","x":0.489,"y":3.38},{"c":"l","x":0.491,"y":5.0},{"c":"l","x":0.492,"y":4.33},{"c":"l","x":0.494,"y":3.92},{"c":"l","x":0.494,"y":5.19},{"c":"l","x":0.498,"y":4.3},{"c":"l","x":0.496,"y":5.04},{"c":"l","x":0.506,"y":4.69},{"c":"l","x":0.513,"y":5.99},{"c":"l","x":0.513,"y":4.61},{"c":"l","x":0.521,"y":4.62},{"c":"l","x":0.527,"y":5.9},{"c":"l","x":0.53,"y":3.87},{"c":"l","x":0.541,"y":6.72},{"c":"l","x":0.544,"y":5.85},{"c":"l","x":0.546,"y":6.37},{"c":"l","x":0.547,"y":4.11},{"c":"l","x":0.55,"y":5.69},{"c":"l","x":0.553,"y":5.51},{"c":"l","x":0.555,"y":4.5},{"c":"l","x":0.558,"y":3.1},{"c":"l","x":0.563,"y":4.38},{"c":"l","x":0.564,"y":5.34},{"c":"l","x":0.564,"y":3.46},{"c":"l","x":0.567,"y":6.76},{"c":"l","x":0.569,"y":2.28},{"c":"l","x":0.573,"y":5.27},{"c":"l","x":0.576,"y":4.33},{"c":"l","x":0.577,"y":4.85},{"c":"l","x":0.578,"y":5.0},{"c":"l","x":0.58,"y":5.67},{"c":"l","x":0.582,"y":3.87},{"c":"l","x":0.586,"y":6.0},{"c":"l","x":0.589,"y":3.06},{"c":"l","x":0.595,"y":3.45},{"c":"l","x":0.599,"y":3.53},{"c":"l","x":0.6,"y":5.17},{"c":"l","x":0.61,"y":6.66},{"c":"l","x":0.613,"y":3.86},{"c":"l","x":0.615,"y":3.25},{"c":"l","x":0.616,"y":4.68},{"c":"l","x":0.618,"y":3.71},{"c":"l","x":0.618,"y":5.45},{"c":"l","x":0.617,"y":6.18},{"c":"l","x":0.62,"y":4.69},{"c":"l","x":0.621,"y":3.08},{"c":"l","x":0.626,"y":3.76},{"c":"l","x":0.633,"y":4.2},{"c":"l","x":0.639,"y":3.63},{"c":"l","x":0.639,"y":3.21},{"c":"l","x":0.643,"y":4.19},{"c":"l","x":0.645,"y":4.1},{"c":"l","x":0.647,"y":5.65},{"c":"l","x":0.651,"y":2.48},{"c":"l","x":0.654,"y":3.78},{"c":"l","x":0.656,"y":2.88},{"c":"l","x":0.658,"y":3.03},{"c":"l","x":0.66,"y":4.45},{"c":"l","x":0.662,"y":5.22},{"c":"l","x":0.663,"y":4.54},{"c":"l","x":0.67,"y":3.19},{"c":"l","x":0.676,"y":3.02},{"c":"l","x":0.679,"y":5.33},{"c":"l","x":0.681,"y":3.98},{"c":"l","x":0.682,"y":3.76},{"c":"l","x":0.682,"y":3.53},{"c":"l","x":0.684,"y":2.74},{"c":"l","x":0.684,"y":1.69},{"c":"l","x":0.686,"y":5.1},{"c":"l","x":0.687,"y":3.39},{"c":"l","x":0.694,"y":3.67},{"c":"l","x":0.694,"y":4.52},{"c":"l","x":0.697,"y":3.96},{"c":"l","x":0.701,"y":2.12},{"c":"l","x":0.703,"y":2.47},{"c":"l","x":0.706,"y":4.28},{"c":"l","x":0.709,"y":2.82},{"c":"l","x":0.711,"y":5.53},{"c":"l","x":0.713,"y":3.54},{"c":"l","x":0.715,"y":3.84},{"c":"l","x":0.717,"y":6.9},{"c":"l","x":0.719,"y":5.07},{"c":"l","x":0.721,"y":4.63},{"c":"l","x":0.721,"y":3.8},{"c":"l","x":0.724,"y":3.25},{"c":"l","x":0.727,"y":3.97},{"c":"l","x":0.729,"y":4.96},{"c":"l","x":0.731,"y":2.63},{"c":"l","x":0.733,"y":3.87},{"c":"l","x":0.735,"y":3.19},{"c":"l","x":0.737,"y":4.71},{"c":"l","x":0.741,"y":3.63},{"c":"l","x":0.743,"y":2.18},{"c":"l","x":0.748,"y":2.56},{"c":"l","x":0.75,"y":3.07},{"c":"l","x":0.751,"y":4.49},{"c":"l","x":0.752,"y":4.83},{"c":"l","x":0.754,"y":4.38},{"c":"l","x":0.758,"y":3.58},{"c":"l","x":0.761,"y":3.9},{"c":"l","x":0.77,"y":2.7},{"c":"l","x":0.774,"y":4.04},{"c":"l","x":0.776,"y":3.46},{"c":"l","x":0.781,"y":4.39},{"c":"l","x":0.783,"y":3.03},{"c":"l","x":0.785,"y":1.95},{"c":"l","x":0.787,"y":3.41},{"c":"l","x":0.789,"y":3.8},{"c":"l","x":0.79,"y":2.99},{"c":"l","x":0.792,"y":2.52},{"c":"l","x":0.795,"y":3.39},{"c":"l","x":0.796,"y":3.34},{"c":"l","x":0.796,"y":3.67},{"c":"l","x":0.798,"y":5.78},{"c":"l","x":0.8,"y":3.19},{"c":"l","x":0.801,"y":2.99},{"c":"l","x":0.803,"y":3.46},{"c":"l","x":0.806,"y":3.07},{"c":"l","x":0.809,"y":5.58},{"c":"l","x":0.81,"y":5.42},{"c":"l","x":0.811,"y":5.08},{"c":"l","x":0.813,"y":2.4},{"c":"l","x":0.815,"y":3.72},{"c":"l","x":0.818,"y":1.7},{"c":"l","x":0.819,"y":3.73},{"c":"l","x":0.828,"y":4.22},{"c":"l","x":0.83,"y":3.64},{"c":"l","x":0.832,"y":1.57},{"c":"l","x":0.833,"y":3.0},{"c":"l","x":0.836,"y":2.63},{"c":"l","x":0.839,"y":1.74},{"c":"l","x":0.842,"y":3.33},{"c":"l","x":0.844,"y":1.53},{"c":"l","x":0.847,"y":1.98},{"c":"l","x":0.856,"y":1.27},{"c":"l","x":0.861,"y":2.93},{"c":"l","x":0.865,"y":2.44},{"c":"l","x":0.867,"y":3.19},{"c":"l","x":0.87,"y":2.88},{"c":"l","x":0.876,"y":3.45},{"c":"l","x":0.879,"y":2.41},{"c":"l","x":0.883,"y":2.63},{"c":"l","x":0.885,"y":2.7},{"c":"l","x":0.888,"y":2.52},{"c":"l","x":0.891,"y":2.76},{"c":"l","x":0.896,"y":2.54},{"c":"l","x":0.944,"y":2.16},{"c":"l","x":0.932,"y":0.59},{"c":"l","x":0.349,"y":1.06},
{"c":"h","x":0.048,"y":8.45},{"c":"h","x":0.088,"y":7.89},{"c":"h","x":0.077,"y":6.52},{"c":"h","x":0.119,"y":7.7},{"c":"h","x":0.124,"y":8.07},{"c":"h","x":0.131,"y":8.08},{"c":"h","x":0.134,"y":7.47},{"c":"h","x":0.143,"y":7.11},{"c":"h","x":0.124,"y":6.12},{"c":"h","x":0.136,"y":6.18},{"c":"h","x":0.135,"y":5.75},{"c":"h","x":0.171,"y":8.04},{"c":"h","x":0.171,"y":7.3},{"c":"h","x":0.18,"y":6.42},{"c":"h","x":0.193,"y":5.87},{"c":"h","x":0.205,"y":5.73},{"c":"h","x":0.218,"y":3.59},{"c":"h","x":0.229,"y":6.68},{"c":"h","x":0.249,"y":6.37},{"c":"h","x":0.254,"y":7.07},{"c":"h","x":0.259,"y":7.23},{"c":"h","x":0.264,"y":5.49},{"c":"h","x":0.278,"y":6.71},{"c":"h","x":0.286,"y":6.05},{"c":"h","x":0.294,"y":7.09},{"c":"h","x":0.296,"y":6.88},{"c":"h","x":0.315,"y":6.9},{"c":"h","x":0.302,"y":4.88},{"c":"h","x":0.318,"y":5.2},{"c":"h","x":0.332,"y":5.26},{"c":"h","x":0.337,"y":7.39},{"c":"h","x":0.349,"y":4.69},{"c":"h","x":0.356,"y":8.0},{"c":"h","x":0.356,"y":5.49},{"c":"h","x":0.363,"y":6.44},{"c":"h","x":0.389,"y":5.53},{"c":"h","x":0.404,"y":5.41},{"c":"h","x":0.42,"y":7.42},{"c":"h","x":0.469,"y":6.32},{"c":"h","x":0.469,"y":6.2},{"c":"h","x":0.492,"y":6.13},{"c":"h","x":0.485,"y":4.9},{"c":"h","x":0.521,"y":6.4},{"c":"h","x":0.523,"y":4.71},{"c":"h","x":0.541,"y":4.49},{"c":"h","x":0.571,"y":4.03},{"c":"h","x":0.608,"y":6.1},{"c":"h","x":0.611,"y":6.24},{"c":"h","x":0.799,"y":5.65}],
"I":[
{"c":"l","x":0.393,"y":4.61},{"c":"l","x":0.387,"y":3.45},{"c":"l","x":0.409,"y":1.8},{"c":"l","x":0.448,"y":1.74},{"c":"l","x":0.458,"y":4.3},{"c":"l","x":0.474,"y":3.28},{"c":"l","x":0.501,"y":3.31},{"c":"l","x":0.501,"y":3.12},{"c":"l","x":0.553,"y":2.2},{"c":"l","x":0.562,"y":1.85},{"c":"l","x":0.589,"y":3.92},{"c":"l","x":0.6,"y":3.42},{"c":"l","x":0.609,"y":1.24},{"c":"l","x":0.612,"y":2.27},{"c":"l","x":0.619,"y":4.18},{"c":"l","x":0.624,"y":5.79},{"c":"l","x":0.629,"y":1.5},{"c":"l","x":0.629,"y":3.69},{"c":"l","x":0.632,"y":4.8},{"c":"l","x":0.641,"y":4.41},{"c":"l","x":0.644,"y":4.44},{"c":"l","x":0.649,"y":4.17},{"c":"l","x":0.65,"y":2.5},{"c":"l","x":0.659,"y":2.61},{"c":"l","x":0.66,"y":1.97},{"c":"l","x":0.677,"y":3.48},{"c":"l","x":0.688,"y":5.06},{"c":"l","x":0.701,"y":3.27},{"c":"l","x":0.712,"y":4.22},{"c":"l","x":0.718,"y":2.77},{"c":"l","x":0.725,"y":1.68},{"c":"l","x":0.726,"y":0.97},{"c":"l","x":0.726,"y":3.99},{"c":"l","x":0.727,"y":3.37},{"c":"l","x":0.734,"y":2.49},{"c":"l","x":0.742,"y":3.14},{"c":"l","x":0.751,"y":3.06},{"c":"l","x":0.755,"y":4.29},{"c":"l","x":0.757,"y":5.28},{"c":"l","x":0.759,"y":4.49},{"c":"l","x":0.759,"y":2.27},{"c":"l","x":0.761,"y":2.95},{"c":"l","x":0.764,"y":4.28},{"c":"l","x":0.767,"y":4.49},{"c":"l","x":0.768,"y":3.68},{"c":"l","x":0.772,"y":3.35},{"c":"l","x":0.774,"y":4.32},{"c":"l","x":0.776,"y":2.62},{"c":"l","x":0.78,"y":2.89},{"c":"l","x":0.784,"y":3.66},{"c":"l","x":0.785,"y":1.12},{"c":"l","x":0.788,"y":3.23},{"c":"l","x":0.791,"y":2.61},{"c":"l","x":0.792,"y":3.56},{"c":"l","x":0.794,"y":5.66},{"c":"l","x":0.797,"y":2.97},{"c":"l","x":0.797,"y":1.66},{"c":"l","x":0.799,"y":4.98},{"c":"l","x":0.8,"y":3.94},{"c":"l","x":0.801,"y":3.28},{"c":"l","x":0.803,"y":2.8},{"c":"l","x":0.805,"y":3.23},{"c":"l","x":0.806,"y":4.5},{"c":"l","x":0.808,"y":3.74},{"c":"l","x":0.81,"y":4.91},{"c":"l","x":0.81,"y":2.28},{"c":"l","x":0.813,"y":2.85},{"c":"l","x":0.815,"y":1.89},{"c":"l","x":0.817,"y":4.15},{"c":"l","x":0.82,"y":3.5},{"c":"l","x":0.824,"y":3.06},{"c":"l","x":0.825,"y":2.09},{"c":"l","x":0.828,"y":3.97},{"c":"l","x":0.83,"y":1.3},{"c":"l","x":0.831,"y":3.73},{"c":"l","x":0.834,"y":3.15},{"c":"l","x":0.835,"y":2.74},{"c":"l","x":0.835,"y":4.03},{"c":"l","x":0.837,"y":3.42},{"c":"l","x":0.838,"y":3.83},{"c":"l","x":0.84,"y":4.2},{"c":"l","x":0.841,"y":2.42},{"c":"l","x":0.843,"y":3.13},{"c":"l","x":0.845,"y":3.69},{"c":"l","x":0.847,"y":4.38},{"c":"l","x":0.848,"y":1.35},{"c":"l","x":0.85,"y":1.23},{"c":"l","x":0.851,"y":2.89},{"c":"l","x":0.852,"y":3.94},{"c":"l","x":0.853,"y":2.21},{"c":"l","x":0.854,"y":3.26},{"c":"l","x":0.856,"y":4.52},{"c":"l","x":0.858,"y":2.68},{"c":"l","x":0.86,"y":3.56},{"c":"l","x":0.862,"y":2.57},{"c":"l","x":0.863,"y":4.05},{"c":"l","x":0.865,"y":3.01},{"c":"l","x":0.867,"y":3.66},{"c":"l","x":0.868,"y":1.98},{"c":"l","x":0.87,"y":3.89},{"c":"l","x":0.871,"y":3.33},{"c":"l","x":0.872,"y":2.8},{"c":"l","x":0.874,"y":4.51},{"c":"l","x":0.875,"y":4.2},{"c":"l","x":0.876,"y":1.77},{"c":"l","x":0.877,"y":2.39},{"c":"l","x":0.878,"y":3.41},{"c":"l","x":0.879,"y":3.05},{"c":"l","x":0.881,"y":3.74},{"c":"l","x":0.883,"y":1.52},{"c":"l","x":0.884,"y":5.36},{"c":"l","x":0.884,"y":2.88},{"c":"l","x":0.884,"y":1.42},{"c":"l","x":0.887,"y":4.71},{"c":"l","x":0.888,"y":3.97},{"c":"l","x":0.889,"y":2.65},{"c":"l","x":0.89,"y":3.26},{"c":"l","x":0.891,"y":3.36},{"c":"l","x":0.892,"y":3.01},{"c":"l","x":0.895,"y":2.38},{"c":"l","x":0.896,"y":4.2},{"c":"l","x":0.897,"y":4.72},{"c":"l","x":0.898,"y":3.65},{"c":"l","x":0.9,"y":2.88},{"c":"l","x":0.902,"y":3.13},{"c":"l","x":0.904,"y":3.83},{"c":"l","x":0.906,"y":2.64},{"c":"l","x":0.91,"y":2.95},{"c":"l","x":0.912,"y":2.5},{"c":"l","x":0.915,"y":1.04},{"c":"l","x":0.917,"y":2.43},{"c":"l","x":0.92,"y":2.3},{"c":"l","x":0.921,"y":3.52},{"c":"l","x":0.923,"y":1.71},{"c":"l","x":0.926,"y":2.76},{"c":"l","x":0.928,"y":2.47},{"c":"l","x":0.933,"y":3.8},{"c":"l","x":0.942,"y":2.85},{"c":"l","x":0.85,"y":0.0},{"c":"l","x":0.885,"y":0.0},
{"c":"h","x":0.105,"y":7.42},{"c":"h","x":0.109,"y":7.19},{"c":"h","x":0.123,"y":7.81},{"c":"h","x":0.13,"y":7.18},{"c":"h","x":0.124,"y":5.16},{"c":"h","x":0.144,"y":1.63},{"c":"h","x":0.155,"y":5.06},{"c":"h","x":0.156,"y":4.49},{"c":"h","x":0.155,"y":3.26},{"c":"h","x":0.165,"y":3.67},{"c":"h","x":0.168,"y":4.0},{"c":"h","x":0.18,"y":3.31},{"c":"h","x":0.184,"y":4.09},{"c":"h","x":0.2,"y":5.54},{"c":"h","x":0.205,"y":5.19},{"c":"h","x":0.207,"y":7.74},{"c":"h","x":0.213,"y":8.29},{"c":"h","x":0.209,"y":0.0},{"c":"h","x":0.219,"y":4.05},{"c":"h","x":0.223,"y":3.87},{"c":"h","x":0.238,"y":4.22},{"c":"h","x":0.241,"y":5.82},{"c":"h","x":0.253,"y":3.13},{"c":"h","x":0.259,"y":3.31},{"c":"h","x":0.265,"y":4.71},{"c":"h","x":0.265,"y":3.76},{"c":"h","x":0.283,"y":7.15},{"c":"h","x":0.288,"y":5.2},{"c":"h","x":0.292,"y":6.27},{"c":"h","x":0.3,"y":4.03},{"c":"h","x":0.345,"y":4.58},{"c":"h","x":0.35,"y":6.52},{"c":"h","x":0.356,"y":3.08},{"c":"h","x":0.375,"y":3.22},{"c":"h","x":0.38,"y":5.12},{"c":"h","x":0.402,"y":3.72},{"c":"h","x":0.404,"y":3.29},{"c":"h","x":0.431,"y":5.77},{"c":"h","x":0.468,"y":5.01},{"c":"h","x":0.485,"y":7.5},{"c":"h","x":0.543,"y":2.53},{"c":"h","x":0.564,"y":2.01},{"c":"h","x":0.565,"y":5.16},{"c":"h","x":0.572,"y":4.07},{"c":"h","x":0.603,"y":5.64},{"c":"h","x":0.634,"y":6.81},{"c":"h","x":0.661,"y":5.25},{"c":"h","x":0.682,"y":4.73},{"c":"h","x":0.709,"y":4.65},{"c":"h","x":0.711,"y":4.6},{"c":"h","x":0.735,"y":4.34},{"c":"h","x":0.736,"y":5.67},{"c":"h","x":0.753,"y":3.28},{"c":"h","x":0.763,"y":3.05},{"c":"h","x":0.78,"y":2.43},{"c":"h","x":0.785,"y":2.2},{"c":"h","x":0.788,"y":3.31},{"c":"h","x":0.791,"y":3.14},{"c":"h","x":0.798,"y":3.83},{"c":"h","x":0.803,"y":0.7},{"c":"h","x":0.815,"y":3.6},{"c":"h","x":0.819,"y":6.73},{"c":"h","x":0.819,"y":4.29},{"c":"h","x":0.823,"y":2.43},{"c":"h","x":0.832,"y":4.34},{"c":"h","x":0.847,"y":1.8},{"c":"h","x":0.847,"y":0.79},{"c":"h","x":0.851,"y":4.38},{"c":"h","x":0.864,"y":6.04},{"c":"h","x":0.868,"y":3.39},{"c":"h","x":0.872,"y":2.19},{"c":"h","x":0.881,"y":2.54},{"c":"h","x":0.89,"y":2.13},{"c":"h","x":0.79,"y":0.0}],
"J":[
{"c":"l","x":0.221,"y":4.58},{"c":"l","x":0.227,"y":1.81},{"c":"l","x":0.264,"y":5.28},{"c":"l","x":0.264,"y":5.19},{"c":"l","x":0.32,"y":3.37},{"c":"l","x":0.355,"y":6.11},{"c":"l","x":0.357,"y":6.06},{"c":"l","x":0.358,"y":3.0},{"c":"l","x":0.366,"y":4.59},{"c":"l","x":0.377,"y":5.43},{"c":"l","x":0.385,"y":5.87},{"c":"l","x":0.387,"y":5.99},{"c":"l","x":0.389,"y":3.92},{"c":"l","x":0.401,"y":4.98},{"c":"l","x":0.408,"y":4.61},{"c":"l","x":0.411,"y":6.61},{"c":"l","x":0.415,"y":6.17},{"c":"l","x":0.429,"y":5.23},{"c":"l","x":0.432,"y":5.1},{"c":"l","x":0.483,"y":4.16},{"c":"l","x":0.485,"y":5.68},{"c":"l","x":0.49,"y":5.57},{"c":"l","x":0.492,"y":3.17},{"c":"l","x":0.498,"y":5.21},{"c":"l","x":0.503,"y":5.19},{"c":"l","x":0.507,"y":4.83},{"c":"l","x":0.511,"y":4.79},{"c":"l","x":0.517,"y":4.32},{"c":"l","x":0.521,"y":5.19},{"c":"l","x":0.526,"y":5.52},{"c":"l","x":0.526,"y":3.67},{"c":"l","x":0.532,"y":2.18},{"c":"l","x":0.534,"y":2.67},{"c":"l","x":0.538,"y":3.91},{"c":"l","x":0.542,"y":4.53},{"c":"l","x":0.547,"y":4.61},{"c":"l","x":0.548,"y":4.77},{"c":"l","x":0.548,"y":4.66},{"c":"l","x":0.551,"y":5.58},{"c":"l","x":0.553,"y":3.56},{"c":"l","x":0.56,"y":3.12},{"c":"l","x":0.564,"y":3.05},{"c":"l","x":0.566,"y":5.15},{"c":"l","x":0.568,"y":3.0},{"c":"l","x":0.571,"y":3.64},{"c":"l","x":0.578,"y":4.82},{"c":"l","x":0.58,"y":4.09},{"c":"l","x":0.583,"y":3.76},{"c":"l","x":0.586,"y":4.13},{"c":"l","x":0.587,"y":4.54},{"c":"l","x":0.59,"y":4.98},{"c":"l","x":0.592,"y":3.92},{"c":"l","x":0.592,"y":5.21},{"c":"l","x":0.595,"y":4.29},{"c":"l","x":0.597,"y":4.42},{"c":"l","x":0.597,"y":4.86},{"c":"l","x":0.599,"y":4.49},{"c":"l","x":0.601,"y":3.0},{"c":"l","x":0.605,"y":5.21},{"c":"l","x":0.606,"y":4.58},{"c":"l","x":0.608,"y":4.66},{"c":"l","x":0.611,"y":4.29},{"c":"l","x":0.613,"y":5.08},{"c":"l","x":0.617,"y":3.68},{"c":"l","x":0.621,"y":5.21},{"c":"l","x":0.624,"y":4.73},{"c":"l","x":0.63,"y":3.91},{"c":"l","x":0.636,"y":3.6},{"c":"l","x":0.642,"y":4.87},{"c":"l","x":0.644,"y":2.5},{"c":"l","x":0.646,"y":3.27},{"c":"l","x":0.647,"y":2.72},{"c":"l","x":0.649,"y":3.18},{"c":"l","x":0.651,"y":5.06},{"c":"l","x":0.654,"y":4.17},{"c":"l","x":0.654,"y":5.15},{"c":"l","x":0.655,"y":3.25},{"c":"l","x":0.657,"y":4.18},{"c":"l","x":0.659,"y":1.1},{"c":"l","x":0.662,"y":3.31},{"c":"l","x":0.665,"y":3.02},{"c":"l","x":0.667,"y":4.83},{"c":"l","x":0.674,"y":5.03},{"c":"l","x":0.678,"y":4.2},{"c":"l","x":0.681,"y":3.62},{"c":"l","x":0.684,"y":4.67},{"c":"l","x":0.686,"y":5.11},{"c":"l","x":0.688,"y":3.38},{"c":"l","x":0.69,"y":2.98},{"c":"l","x":0.692,"y":4.25},{"c":"l","x":0.695,"y":4.13},{"c":"l","x":0.7,"y":2.55},{"c":"l","x":0.7,"y":5.62},{"c":"l","x":0.704,"y":3.43},{"c":"l","x":0.708,"y":3.58},{"c":"l","x":0.713,"y":6.53},{"c":"l","x":0.717,"y":3.92},{"c":"l","x":0.721,"y":4.51},{"c":"l","x":0.723,"y":2.92},{"c":"l","x":0.725,"y":5.39},{"c":"l","x":0.728,"y":4.26},{"c":"l","x":0.73,"y":5.24},{"c":"l","x":0.732,"y":2.72},{"c":"l","x":0.735,"y":5.1},{"c":"l","x":0.737,"y":4.03},{"c":"l","x":0.739,"y":3.16},{"c":"l","x":0.741,"y":4.99},{"c":"l","x":0.744,"y":4.71},{"c":"l","x":0.747,"y":4.15},{"c":"l","x":0.749,"y":2.84},{"c":"l","x":0.752,"y":3.71},{"c":"l","x":0.756,"y":3.41},{"c":"l","x":0.758,"y":3.87},{"c":"l","x":0.761,"y":3.47},{"c":"l","x":0.763,"y":2.98},{"c":"l","x":0.765,"y":3.02},{"c":"l","x":0.767,"y":2.68},{"c":"l","x":0.769,"y":1.89},{"c":"l","x":0.771,"y":1.17},{"c":"l","x":0.773,"y":2.26},{"c":"l","x":0.776,"y":5.23},{"c":"l","x":0.778,"y":1.94},{"c":"l","x":0.78,"y":3.64},{"c":"l","x":0.784,"y":3.08},{"c":"l","x":0.788,"y":5.28},{"c":"l","x":0.791,"y":5.32},{"c":"l","x":0.793,"y":3.0},{"c":"l","x":0.796,"y":4.84},{"c":"l","x":0.8,"y":3.37},{"c":"l","x":0.804,"y":2.35},{"c":"l","x":0.805,"y":3.26},{"c":"l","x":0.807,"y":4.45},{"c":"l","x":0.809,"y":2.42},{"c":"l","x":0.813,"y":3.63},{"c":"l","x":0.816,"y":4.32},{"c":"l","x":0.82,"y":3.84},{"c":"l","x":0.821,"y":1.2},{"c":"l","x":0.824,"y":2.35},{"c":"l","x":0.826,"y":1.2},{"c":"l","x":0.828,"y":3.0},{"c":"l","x":0.83,"y":3.21},{"c":"l","x":0.832,"y":2.8},{"c":"l","x":0.834,"y":0.73},{"c":"l","x":0.837,"y":4.57},{"c":"l","x":0.839,"y":3.0},{"c":"l","x":0.842,"y":2.44},{"c":"l","x":0.845,"y":1.54},{"c":"l","x":0.847,"y":1.62},{"c":"l","x":0.851,"y":2.63},{"c":"l","x":0.853,"y":3.0},{"c":"l","x":0.856,"y":2.68},{"c":"l","x":0.862,"y":3.13},{"c":"l","x":0.865,"y":2.63},{"c":"l","x":0.869,"y":3.13},{"c":"l","x":0.875,"y":2.47},{"c":"l","x":0.878,"y":1.94},{"c":"l","x":0.882,"y":1.95},{"c":"l","x":0.887,"y":2.6},{"c":"l","x":0.904,"y":2.34},{"c":"l","x":0.912,"y":1.72},{"c":"l","x":0.919,"y":2.64},{"c":"l","x":0.928,"y":1.97},{"c":"l","x":0.949,"y":1.99},
{"c":"h","x":0.081,"y":9.07},{"c":"h","x":0.124,"y":8.62},{"c":"h","x":0.182,"y":8.9},{"c":"h","x":0.243,"y":8.59},{"c":"h","x":0.054,"y":7.1},{"c":"h","x":0.065,"y":6.59},{"c":"h","x":0.072,"y":6.83},{"c":"h","x":0.083,"y":6.64},{"c":"h","x":0.085,"y":6.31},{"c":"h","x":0.105,"y":7.56},{"c":"h","x":0.109,"y":7.08},{"c":"h","x":0.121,"y":5.53},{"c":"h","x":0.141,"y":5.23},{"c":"h","x":0.144,"y":3.75},{"c":"h","x":0.147,"y":7.63},{"c":"h","x":0.156,"y":6.8},{"c":"h","x":0.156,"y":6.59},{"c":"h","x":0.157,"y":6.24},{"c":"h","x":0.165,"y":6.09},{"c":"h","x":0.175,"y":6.8},{"c":"h","x":0.181,"y":7.45},{"c":"h","x":0.184,"y":5.56},{"c":"h","x":0.199,"y":7.67},{"c":"h","x":0.2,"y":6.14},{"c":"h","x":0.201,"y":5.8},{"c":"h","x":0.21,"y":6.67},{"c":"h","x":0.223,"y":6.15},{"c":"h","x":0.225,"y":5.85},{"c":"h","x":0.236,"y":7.13},{"c":"h","x":0.236,"y":7.0},{"c":"h","x":0.249,"y":6.71},{"c":"h","x":0.253,"y":6.73},{"c":"h","x":0.264,"y":5.43},{"c":"h","x":0.264,"y":4.95},{"c":"h","x":0.268,"y":5.9},{"c":"h","x":0.27,"y":6.97},{"c":"h","x":0.28,"y":6.13},{"c":"h","x":0.3,"y":6.55},{"c":"h","x":0.302,"y":5.64},{"c":"h","x":0.301,"y":4.98},{"c":"h","x":0.327,"y":7.43},{"c":"h","x":0.33,"y":5.77},{"c":"h","x":0.35,"y":5.28},{"c":"h","x":0.378,"y":4.83},{"c":"h","x":0.386,"y":6.28},{"c":"h","x":0.388,"y":7.17},{"c":"h","x":0.388,"y":6.57},{"c":"h","x":0.392,"y":5.1},{"c":"h","x":0.394,"y":6.48},{"c":"h","x":0.428,"y":6.72},{"c":"h","x":0.446,"y":5.27},{"c":"h","x":0.442,"y":4.75},{"c":"h","x":0.473,"y":4.73},{"c":"h","x":0.487,"y":5.68},{"c":"h","x":0.494,"y":7.47},{"c":"h","x":0.495,"y":3.51},{"c":"h","x":0.515,"y":5.45},{"c":"h","x":0.529,"y":7.06},{"c":"h","x":0.533,"y":6.27},{"c":"h","x":0.529,"y":4.58},{"c":"h","x":0.549,"y":4.12},{"c":"h","x":0.556,"y":6.8},{"c":"h","x":0.57,"y":7.21},{"c":"h","x":0.575,"y":6.1},{"c":"h","x":0.576,"y":5.03},{"c":"h","x":0.583,"y":4.69},{"c":"h","x":0.602,"y":5.49},{"c":"h","x":0.608,"y":5.27},{"c":"h","x":0.614,"y":4.88},{"c":"h","x":0.629,"y":5.66},{"c":"h","x":0.655,"y":5.89},{"c":"h","x":0.698,"y":3.25},{"c":"h","x":0.724,"y":5.73},{"c":"h","x":0.745,"y":6.4},{"c":"h","x":0.778,"y":5.61},{"c":"h","x":0.837,"y":6.26},{"c":"h","x":0.615,"y":0.0}]
},
"resolve":{"scale":{"color":"independent","xOffset":"independent"},"legend":{"color":"independent"}},
"spacing":39,
"vconcat":[
{"vconcat":[
{"hconcat":[
{"width":1,"height":1,"data":{"name":"Z"},"mark":{"type":"point","opacity":0}},
{"hconcat":[
{"title":{"text":"A","anchor":"start","fontSize":18,"offset":-18},"resolve":{"scale":{"color":"independent","xOffset":"independent"},"legend":{"color":"independent"}},"vconcat":[{
"width":200,"height":152,"view":{"fill":"#eaeaf2","stroke":null},
"title":{"text":"Cluster vs PDCD1LG2 expression","subtitle":"(P = 3.90e–18)","subtitleColor":"#222","fontSize":11,"subtitleFontSize":11,"subtitlePadding":2,"offset":5},
"data":{"name":"S"},"transform":[{"filter":"datum.p=='A'"}],
"resolve":{"scale":{"xOffset":"independent"}},
"layer":[
{"mark":{"type":"rule","color":"#6b6b6b","strokeWidth":1.3},"encoding":{"x":{"field":"g","type":"nominal","scale":{"domain":["h","l"],"paddingInner":0,"paddingOuter":0},"axis":{"title":null,"labelExpr":"datum.value=='h'?['Glycolysis-high','cluster']:['Glycolysis-low','cluster']","domain":false,"ticks":false,"labelFontSize":10.5,"labelPadding":4,"labelAngle":0,"labelLineHeight":13}},"y":{"field":"lo","type":"quantitative","scale":{"domain":[-1.5,9.1],"nice":false,"zero":false},"axis":{"title":"log2_normalized_expression","values":[0,2,4,6,8],"format":"d","tickCount":20,"labelOverlap":false,"domain":false,"ticks":false,"grid":true,"gridColor":"white","labelFontSize":10.5,"titleFontSize":10.5,"labelPadding":5,"titlePadding":9}},"y2":{"field":"hi"}}},
{"mark":{"type":"bar","width":{"band":0.8},"stroke":"#777","strokeWidth":1.2},"encoding":{"x":{"field":"g","type":"nominal"},"y":{"field":"q1","type":"quantitative"},"y2":{"field":"q3"},"color":{"field":"g","type":"nominal","scale":{"domain":["h","l"],"range":["#a3a3a3","#c5e4bc"]},"legend":null}}},
{"mark":{"type":"bar","width":{"band":0.8},"fillOpacity":0,"stroke":"#666","strokeWidth":1.3},"encoding":{"x":{"field":"g","type":"nominal"},"y":{"field":"md","type":"quantitative"},"y2":{"field":"md"}}},
{"mark":{"type":"bar","width":{"band":0.6},"fillOpacity":0,"stroke":"#666","strokeWidth":1.3},"encoding":{"x":{"field":"g","type":"nominal"},"y":{"field":"lo","type":"quantitative"},"y2":{"field":"lo"}}},
{"mark":{"type":"bar","width":{"band":0.6},"fillOpacity":0,"stroke":"#666","strokeWidth":1.3},"encoding":{"x":{"field":"g","type":"nominal"},"y":{"field":"hi","type":"quantitative"},"y2":{"field":"hi"}}},
{"data":{"name":"A"},"transform":[{"bin":{"step":0.28},"field":"v","as":"b"},{"window":[{"op":"row_number","as":"k"}],"groupby":["g","b"]}],"mark":{"type":"circle","size":10,"color":"#333","opacity":1},"encoding":{"x":{"field":"g","type":"nominal","bandPosition":0},"y":{"field":"v","type":"quantitative"},"xOffset":{"field":"k","type":"nominal","scale":{"domain":[24,22,20,18,16,14,12,10,8,6,4,2,1,3,5,7,9,11,13,15,17,19,21,23,25]}}}}
]}]},
{"title":{"text":"B","anchor":"start","fontSize":18,"offset":-18},"resolve":{"scale":{"color":"independent","xOffset":"independent"},"legend":{"color":"independent"}},"vconcat":[{
"width":200,"height":152,"view":{"fill":"#eaeaf2","stroke":null},
"title":{"text":"Cluster vs PDCD1 expression","subtitle":"(P = 1.67e–15)","subtitleColor":"#222","fontSize":11,"subtitleFontSize":11,"subtitlePadding":2,"offset":5},
"data":{"name":"S"},"transform":[{"filter":"datum.p=='B'"}],
"resolve":{"scale":{"xOffset":"independent"}},
"layer":[
{"mark":{"type":"rule","color":"#6b6b6b","strokeWidth":1.3},"encoding":{"x":{"field":"g","type":"nominal","scale":{"domain":["h","l"],"paddingInner":0,"paddingOuter":0},"axis":{"title":null,"labelExpr":"datum.value=='h'?['Glycolysis-high','cluster']:['Glycolysis-low','cluster']","domain":false,"ticks":false,"labelFontSize":10.5,"labelPadding":4,"labelAngle":0,"labelLineHeight":13}},"y":{"field":"lo","type":"quantitative","scale":{"domain":[-2.43,7.85],"nice":false,"zero":false},"axis":{"title":"log2_normalized_expression","values":[-2,0,2,4,6],"format":"d","tickCount":20,"labelOverlap":false,"domain":false,"ticks":false,"grid":true,"gridColor":"white","labelFontSize":10.5,"titleFontSize":10.5,"labelPadding":5,"titlePadding":9}},"y2":{"field":"hi"}}},
{"mark":{"type":"bar","width":{"band":0.8},"stroke":"#777","strokeWidth":1.2},"encoding":{"x":{"field":"g","type":"nominal"},"y":{"field":"q1","type":"quantitative"},"y2":{"field":"q3"},"color":{"field":"g","type":"nominal","scale":{"domain":["h","l"],"range":["#a3a3a3","#c5e4bc"]},"legend":null}}},
{"mark":{"type":"bar","width":{"band":0.8},"fillOpacity":0,"stroke":"#666","strokeWidth":1.3},"encoding":{"x":{"field":"g","type":"nominal"},"y":{"field":"md","type":"quantitative"},"y2":{"field":"md"}}},
{"mark":{"type":"bar","width":{"band":0.6},"fillOpacity":0,"stroke":"#666","strokeWidth":1.3},"encoding":{"x":{"field":"g","type":"nominal"},"y":{"field":"lo","type":"quantitative"},"y2":{"field":"lo"}}},
{"mark":{"type":"bar","width":{"band":0.6},"fillOpacity":0,"stroke":"#666","strokeWidth":1.3},"encoding":{"x":{"field":"g","type":"nominal"},"y":{"field":"hi","type":"quantitative"},"y2":{"field":"hi"}}},
{"data":{"name":"B"},"transform":[{"bin":{"step":0.28},"field":"v","as":"b"},{"window":[{"op":"row_number","as":"k"}],"groupby":["g","b"]}],"mark":{"type":"circle","size":10,"color":"#333","opacity":1},"encoding":{"x":{"field":"g","type":"nominal","bandPosition":0},"y":{"field":"v","type":"quantitative"},"xOffset":{"field":"k","type":"nominal","scale":{"domain":[24,22,20,18,16,14,12,10,8,6,4,2,1,3,5,7,9,11,13,15,17,19,21,23,25]}}}}
]}]},
{"title":{"text":"C","anchor":"start","fontSize":18,"offset":-18},"resolve":{"scale":{"color":"independent","xOffset":"independent"},"legend":{"color":"independent"}},"vconcat":[{
"width":196,"height":150,"view":{"fill":"#eaeaf2","stroke":null},
"title":{"text":"Cluster vs CD274 expression","subtitle":"(P = 8.08e–09)","subtitleColor":"#222","fontSize":11,"subtitleFontSize":11,"subtitlePadding":2,"offset":5},
"data":{"name":"S"},"transform":[{"filter":"datum.p=='C'"}],
"resolve":{"scale":{"xOffset":"independent"}},
"layer":[
{"mark":{"type":"rule","color":"#6b6b6b","strokeWidth":1.3},"encoding":{"x":{"field":"g","type":"nominal","scale":{"domain":["h","l"],"paddingInner":0,"paddingOuter":0},"axis":{"title":null,"labelExpr":"datum.value=='h'?['Glycolysis-high','cluster']:['Glycolysis-low','cluster']","domain":false,"ticks":false,"labelFontSize":10.5,"labelPadding":4,"labelAngle":0,"labelLineHeight":13}},"y":{"field":"lo","type":"quantitative","scale":{"domain":[-1.77,8.98],"nice":false,"zero":false},"axis":{"title":"log2_normalized_expression","values":[0,2,4,6,8],"format":"d","tickCount":20,"labelOverlap":false,"domain":false,"ticks":false,"grid":true,"gridColor":"white","labelFontSize":10.5,"titleFontSize":10.5,"labelPadding":5,"titlePadding":9}},"y2":{"field":"hi"}}},
{"mark":{"type":"bar","width":{"band":0.8},"stroke":"#777","strokeWidth":1.2},"encoding":{"x":{"field":"g","type":"nominal"},"y":{"field":"q1","type":"quantitative"},"y2":{"field":"q3"},"color":{"field":"g","type":"nominal","scale":{"domain":["h","l"],"range":["#a3a3a3","#c5e4bc"]},"legend":null}}},
{"mark":{"type":"bar","width":{"band":0.8},"fillOpacity":0,"stroke":"#666","strokeWidth":1.3},"encoding":{"x":{"field":"g","type":"nominal"},"y":{"field":"md","type":"quantitative"},"y2":{"field":"md"}}},
{"mark":{"type":"bar","width":{"band":0.6},"fillOpacity":0,"stroke":"#666","strokeWidth":1.3},"encoding":{"x":{"field":"g","type":"nominal"},"y":{"field":"lo","type":"quantitative"},"y2":{"field":"lo"}}},
{"mark":{"type":"bar","width":{"band":0.6},"fillOpacity":0,"stroke":"#666","strokeWidth":1.3},"encoding":{"x":{"field":"g","type":"nominal"},"y":{"field":"hi","type":"quantitative"},"y2":{"field":"hi"}}},
{"data":{"name":"C"},"transform":[{"bin":{"step":0.28},"field":"v","as":"b"},{"window":[{"op":"row_number","as":"k"}],"groupby":["g","b"]}],"mark":{"type":"circle","size":10,"color":"#333","opacity":1},"encoding":{"x":{"field":"g","type":"nominal","bandPosition":0},"y":{"field":"v","type":"quantitative"},"xOffset":{"field":"k","type":"nominal","scale":{"domain":[24,22,20,18,16,14,12,10,8,6,4,2,1,3,5,7,9,11,13,15,17,19,21,23,25]}}}}
]}]}
],"spacing":28,"resolve":{"scale":{"color":"independent","xOffset":"independent"},"legend":{"color":"independent"}}}
],"spacing":8,"resolve":{"scale":{"color":"independent","xOffset":"independent"},"legend":{"color":"independent"}}},
{"hconcat":[
{"width":1,"height":1,"data":{"name":"Z"},"mark":{"type":"point","opacity":0}},
{"hconcat":[
{"title":{"text":"D","anchor":"start","fontSize":18,"offset":-18},"resolve":{"scale":{"color":"independent","xOffset":"independent"},"legend":{"color":"independent"}},"vconcat":[{
"width":209,"height":155,"view":{"fill":"#eaeaf2","stroke":null},
"title":{"text":"Cluster vs IDO1 expression","subtitle":"(P = 1.10e–04)","subtitleColor":"#222","fontSize":11,"subtitleFontSize":11,"subtitlePadding":2,"offset":5},
"data":{"name":"S"},"transform":[{"filter":"datum.p=='D'"}],
"resolve":{"scale":{"xOffset":"independent"}},
"layer":[
{"mark":{"type":"rule","color":"#6b6b6b","strokeWidth":1.3},"encoding":{"x":{"field":"g","type":"nominal","scale":{"domain":["h","l"],"paddingInner":0,"paddingOuter":0},"axis":{"title":null,"labelExpr":"datum.value=='h'?['Glycolysis-high','cluster']:['Glycolysis-low','cluster']","domain":false,"ticks":false,"labelFontSize":10.5,"labelPadding":4,"labelAngle":0,"labelLineHeight":13}},"y":{"field":"lo","type":"quantitative","scale":{"domain":[-2.62,8.48],"nice":false,"zero":false},"axis":{"title":"log2_normalized_expression","values":[-2,0,2,4,6,8],"format":"d","tickCount":20,"labelOverlap":false,"domain":false,"ticks":false,"grid":true,"gridColor":"white","labelFontSize":10.5,"titleFontSize":10.5,"labelPadding":5,"titlePadding":9}},"y2":{"field":"hi"}}},
{"mark":{"type":"bar","width":{"band":0.8},"stroke":"#777","strokeWidth":1.2},"encoding":{"x":{"field":"g","type":"nominal"},"y":{"field":"q1","type":"quantitative"},"y2":{"field":"q3"},"color":{"field":"g","type":"nominal","scale":{"domain":["h","l"],"range":["#a3a3a3","#c5e4bc"]},"legend":null}}},
{"mark":{"type":"bar","width":{"band":0.8},"fillOpacity":0,"stroke":"#666","strokeWidth":1.3},"encoding":{"x":{"field":"g","type":"nominal"},"y":{"field":"md","type":"quantitative"},"y2":{"field":"md"}}},
{"mark":{"type":"bar","width":{"band":0.6},"fillOpacity":0,"stroke":"#666","strokeWidth":1.3},"encoding":{"x":{"field":"g","type":"nominal"},"y":{"field":"lo","type":"quantitative"},"y2":{"field":"lo"}}},
{"mark":{"type":"bar","width":{"band":0.6},"fillOpacity":0,"stroke":"#666","strokeWidth":1.3},"encoding":{"x":{"field":"g","type":"nominal"},"y":{"field":"hi","type":"quantitative"},"y2":{"field":"hi"}}},
{"data":{"name":"D"},"transform":[{"bin":{"step":0.28},"field":"v","as":"b"},{"window":[{"op":"row_number","as":"k"}],"groupby":["g","b"]}],"mark":{"type":"circle","size":10,"color":"#333","opacity":1},"encoding":{"x":{"field":"g","type":"nominal","bandPosition":0},"y":{"field":"v","type":"quantitative"},"xOffset":{"field":"k","type":"nominal","scale":{"domain":[24,22,20,18,16,14,12,10,8,6,4,2,1,3,5,7,9,11,13,15,17,19,21,23,25]}}}}
]}]},
{"title":{"text":"E","anchor":"start","fontSize":18,"offset":-18},"resolve":{"scale":{"color":"independent","xOffset":"independent"},"legend":{"color":"independent"}},"vconcat":[{
"width":207,"height":155,"view":{"fill":"#eaeaf2","stroke":null},
"title":{"text":"Cluster vs TNFRSF4 expression","subtitle":"(P = 3.49e–06)","subtitleColor":"#222","fontSize":11,"subtitleFontSize":11,"subtitlePadding":2,"offset":5},
"data":{"name":"S"},"transform":[{"filter":"datum.p=='E'"}],
"resolve":{"scale":{"xOffset":"independent"}},
"layer":[
{"mark":{"type":"rule","color":"#6b6b6b","strokeWidth":1.3},"encoding":{"x":{"field":"g","type":"nominal","scale":{"domain":["h","l"],"paddingInner":0,"paddingOuter":0},"axis":{"title":null,"labelExpr":"datum.value=='h'?['Glycolysis-high','cluster']:['Glycolysis-low','cluster']","domain":false,"ticks":false,"labelFontSize":10.5,"labelPadding":4,"labelAngle":0,"labelLineHeight":13}},"y":{"field":"lo","type":"quantitative","scale":{"domain":[-1.92,8.1],"nice":false,"zero":false},"axis":{"title":"log2_normalized_expression","values":[0,2,4,6,8],"format":"d","tickCount":20,"labelOverlap":false,"domain":false,"ticks":false,"grid":true,"gridColor":"white","labelFontSize":10.5,"titleFontSize":10.5,"labelPadding":5,"titlePadding":9}},"y2":{"field":"hi"}}},
{"mark":{"type":"bar","width":{"band":0.8},"stroke":"#777","strokeWidth":1.2},"encoding":{"x":{"field":"g","type":"nominal"},"y":{"field":"q1","type":"quantitative"},"y2":{"field":"q3"},"color":{"field":"g","type":"nominal","scale":{"domain":["h","l"],"range":["#a3a3a3","#c5e4bc"]},"legend":null}}},
{"mark":{"type":"bar","width":{"band":0.8},"fillOpacity":0,"stroke":"#666","strokeWidth":1.3},"encoding":{"x":{"field":"g","type":"nominal"},"y":{"field":"md","type":"quantitative"},"y2":{"field":"md"}}},
{"mark":{"type":"bar","width":{"band":0.6},"fillOpacity":0,"stroke":"#666","strokeWidth":1.3},"encoding":{"x":{"field":"g","type":"nominal"},"y":{"field":"lo","type":"quantitative"},"y2":{"field":"lo"}}},
{"mark":{"type":"bar","width":{"band":0.6},"fillOpacity":0,"stroke":"#666","strokeWidth":1.3},"encoding":{"x":{"field":"g","type":"nominal"},"y":{"field":"hi","type":"quantitative"},"y2":{"field":"hi"}}},
{"data":{"name":"E"},"transform":[{"bin":{"step":0.26},"field":"v","as":"b"},{"window":[{"op":"row_number","as":"k"}],"groupby":["g","b"]}],"mark":{"type":"circle","size":10,"color":"#333","opacity":1},"encoding":{"x":{"field":"g","type":"nominal","bandPosition":0},"y":{"field":"v","type":"quantitative"},"xOffset":{"field":"k","type":"nominal","scale":{"domain":[24,22,20,18,16,14,12,10,8,6,4,2,1,3,5,7,9,11,13,15,17,19,21,23,25]}}}}
]}]},
{"title":{"text":"F","anchor":"start","fontSize":18,"offset":-18},"resolve":{"scale":{"color":"independent","xOffset":"independent"},"legend":{"color":"independent"}},"vconcat":[{
"width":207,"height":155,"view":{"fill":"#eaeaf2","stroke":null},
"title":{"text":"Cluster vs CTLA4 expression","subtitle":"(P = 3.89e–05)","subtitleColor":"#222","fontSize":11,"subtitleFontSize":11,"subtitlePadding":2,"offset":5},
"data":{"name":"S"},"transform":[{"filter":"datum.p=='F'"}],
"resolve":{"scale":{"xOffset":"independent"}},
"layer":[
{"mark":{"type":"rule","color":"#6b6b6b","strokeWidth":1.3},"encoding":{"x":{"field":"g","type":"nominal","scale":{"domain":["h","l"],"paddingInner":0,"paddingOuter":0},"axis":{"title":null,"labelExpr":"datum.value=='h'?['Glycolysis-high','cluster']:['Glycolysis-low','cluster']","domain":false,"ticks":false,"labelFontSize":10.5,"labelPadding":4,"labelAngle":0,"labelLineHeight":13}},"y":{"field":"lo","type":"quantitative","scale":{"domain":[-1.92,6.4],"nice":false,"zero":false},"axis":{"title":"log2_normalized_expression","values":[-1,0,1,2,3,4,5,6],"format":"d","tickCount":20,"labelOverlap":false,"domain":false,"ticks":false,"grid":true,"gridColor":"white","labelFontSize":10.5,"titleFontSize":10.5,"labelPadding":5,"titlePadding":9}},"y2":{"field":"hi"}}},
{"mark":{"type":"bar","width":{"band":0.8},"stroke":"#777","strokeWidth":1.2},"encoding":{"x":{"field":"g","type":"nominal"},"y":{"field":"q1","type":"quantitative"},"y2":{"field":"q3"},"color":{"field":"g","type":"nominal","scale":{"domain":["h","l"],"range":["#a3a3a3","#c5e4bc"]},"legend":null}}},
{"mark":{"type":"bar","width":{"band":0.8},"fillOpacity":0,"stroke":"#666","strokeWidth":1.3},"encoding":{"x":{"field":"g","type":"nominal"},"y":{"field":"md","type":"quantitative"},"y2":{"field":"md"}}},
{"mark":{"type":"bar","width":{"band":0.6},"fillOpacity":0,"stroke":"#666","strokeWidth":1.3},"encoding":{"x":{"field":"g","type":"nominal"},"y":{"field":"lo","type":"quantitative"},"y2":{"field":"lo"}}},
{"mark":{"type":"bar","width":{"band":0.6},"fillOpacity":0,"stroke":"#666","strokeWidth":1.3},"encoding":{"x":{"field":"g","type":"nominal"},"y":{"field":"hi","type":"quantitative"},"y2":{"field":"hi"}}},
{"data":{"name":"F"},"transform":[{"bin":{"step":0.22},"field":"v","as":"b"},{"window":[{"op":"row_number","as":"k"}],"groupby":["g","b"]}],"mark":{"type":"circle","size":10,"color":"#333","opacity":1},"encoding":{"x":{"field":"g","type":"nominal","bandPosition":0},"y":{"field":"v","type":"quantitative"},"xOffset":{"field":"k","type":"nominal","scale":{"domain":[24,22,20,18,16,14,12,10,8,6,4,2,1,3,5,7,9,11,13,15,17,19,21,23,25]}}}}
]}]}
],"spacing":15,"resolve":{"scale":{"color":"independent","xOffset":"independent"},"legend":{"color":"independent"}}}
],"spacing":4,"resolve":{"scale":{"color":"independent","xOffset":"independent"},"legend":{"color":"independent"}}}
],"spacing":20,"resolve":{"scale":{"color":"independent","xOffset":"independent"},"legend":{"color":"independent"}}},
{"vconcat":[
{"hconcat":[
{"width":1,"height":1,"data":{"name":"Z"},"mark":{"type":"point","opacity":0}},
{"hconcat":[
{"title":{"text":"G","anchor":"start","fontSize":18,"offset":-18},"resolve":{"scale":{"color":"independent"},"legend":{"color":"independent"}},"vconcat":[
{"title":{"text":"Discovery","orient":"left","anchor":"middle","fontSize":12.5,"offset":22},"resolve":{"scale":{"color":"independent"},"legend":{"color":"independent"}},"vconcat":[{
"width":315,"height":250,
"title":{"text":"PD-L1 promoter methylation vs PD-L1 expression","subtitle":"(r = –0.40, p = 6.05e–11)","subtitleColor":"#222","fontSize":12.5,"subtitleFontSize":12.5,"subtitlePadding":2,"offset":8},
"data":{"name":"G"},
"mark":{"type":"circle","size":24,"opacity":0.78},
"encoding":{
"x":{"field":"x","type":"quantitative","scale":{"domain":[0.027,0.973],"nice":false,"zero":false},"axis":{"values":[0.2,0.4,0.6,0.8],"format":".1f","title":"PDL1 promoter methylation (cg15837913)","labelFontSize":12,"titleFontSize":12.5,"tickSize":4,"titlePadding":5}},
"y":{"field":"y","type":"quantitative","scale":{"domain":[-0.45,8.5],"nice":false,"zero":false},"axis":{"values":[0,1,2,3,4,5,6,7,8],"title":"PDL1 expression","labelFontSize":12,"titleFontSize":12.5,"tickSize":4,"titlePadding":8}},
"color":{"field":"c","type":"nominal","scale":{"domain":["l","h"],"range":["#1f77b4","#ff7f0e"]},"legend":{"title":null,"labelExpr":"datum.label=='l'?'Glycolysis low':'Glycolysis high cluster (enriched for IDH wild-type)'"}}}}]}]},
{"title":{"text":"H","anchor":"start","fontSize":18,"offset":-18},"resolve":{"scale":{"color":"independent"},"legend":{"color":"independent"}},"vconcat":[{
"width":328,"height":250,
"title":{"text":"PD-L2 promoter methylation vs PD-L2 expression","subtitle":"(r = –0.75, p = 4.36e–46)","subtitleColor":"#222","fontSize":12.5,"subtitleFontSize":12.5,"subtitlePadding":2,"offset":8},
"data":{"name":"H"},
"mark":{"type":"circle","size":24,"opacity":0.78},
"encoding":{
"x":{"field":"x","type":"quantitative","scale":{"domain":[-0.002,1.0],"nice":false,"zero":false},"axis":{"values":[0,0.2,0.4,0.6,0.8,1.0],"format":".1f","title":"PDL2 promoter methylation (cg07211259)","labelFontSize":12,"titleFontSize":12.5,"tickSize":4,"titlePadding":5}},
"y":{"field":"y","type":"quantitative","scale":{"domain":[0.147,9.03],"nice":false,"zero":false},"axis":{"values":[1,2,3,4,5,6,7,8],"title":"PDL2 expression","labelFontSize":12,"titleFontSize":12.5,"tickSize":4,"titlePadding":8}},
"color":{"field":"c","type":"nominal","scale":{"domain":["l","h"],"range":["#1f77b4","#ff7f0e"]},"legend":{"title":null,"labelExpr":"datum.label=='l'?'Glycolysis low':'Glycolysis high cluster (enriched for IDH wild-type)'"}}}}]}
],"spacing":6,"resolve":{"scale":{"color":"independent"},"legend":{"color":"independent"}}}
],"spacing":0,"resolve":{"scale":{"color":"independent"},"legend":{"color":"independent"}}},
{"hconcat":[
{"width":1,"height":1,"data":{"name":"Z"},"mark":{"type":"point","opacity":0}},
{"hconcat":[
{"title":{"text":"I","anchor":"start","fontSize":18,"offset":-18},"resolve":{"scale":{"color":"independent"},"legend":{"color":"independent"}},"vconcat":[
{"title":{"text":"Validation","orient":"left","anchor":"middle","fontSize":12.5,"offset":12},"resolve":{"scale":{"color":"independent"},"legend":{"color":"independent"}},"vconcat":[{
"width":324,"height":267,
"title":{"text":"PD-L1 promoter methylation vs PD-L1 expression","subtitle":"(r = –0.36, p = 4.23e–8)","subtitleColor":"#222","fontSize":12.5,"subtitleFontSize":12.5,"subtitlePadding":2,"offset":8},
"data":{"name":"I"},
"mark":{"type":"circle","size":24,"opacity":0.78},
"encoding":{
"x":{"field":"x","type":"quantitative","scale":{"domain":[0.054,0.98],"nice":false,"zero":false},"axis":{"values":[0.2,0.4,0.6,0.8],"format":".1f","title":"PDL1 promoter methylation (cg15837913)","labelFontSize":12,"titleFontSize":12.5,"tickSize":4,"titlePadding":5}},
"y":{"field":"y","type":"quantitative","scale":{"domain":[-0.48,8.76],"nice":false,"zero":false},"axis":{"values":[0,2,4,6,8],"title":"PDL1 expression","labelFontSize":12,"titleFontSize":12.5,"tickSize":4,"titlePadding":8}},
"color":{"field":"c","type":"nominal","scale":{"domain":["l","h"],"range":["#1f77b4","#ff7f0e"]},"legend":{"title":null,"labelExpr":"datum.label=='l'?'Glycolysis low':'Glycolysis high cluster (enriched for IDH wild-type)'"}}}}]}]},
{"title":{"text":"J","anchor":"start","fontSize":18,"offset":-18},"resolve":{"scale":{"color":"independent"},"legend":{"color":"independent"}},"vconcat":[{
"width":307,"height":266,
"title":{"text":"PD-L2 promoter methylation vs PD-L2 expression","subtitle":"(r = –0.70, p = 5.05e–39)","subtitleColor":"#222","fontSize":12.5,"subtitleFontSize":12.5,"subtitlePadding":2,"offset":8},
"data":{"name":"J"},
"mark":{"type":"circle","size":24,"opacity":0.78},
"encoding":{
"x":{"field":"x","type":"quantitative","scale":{"domain":[0,1.0],"nice":false,"zero":false},"axis":{"values":[0,0.2,0.4,0.6,0.8,1.0],"format":".1f","title":"PDL2 promoter methylation (cg07211259)","labelFontSize":12,"titleFontSize":12.5,"tickSize":4,"titlePadding":5}},
"y":{"field":"y","type":"quantitative","scale":{"domain":[-0.5,10.03],"nice":false,"zero":false},"axis":{"values":[0,2,4,6,8],"title":"PDL2 expression","labelFontSize":12,"titleFontSize":12.5,"tickSize":4,"titlePadding":8}},
"color":{"field":"c","type":"nominal","scale":{"domain":["l","h"],"range":["#1f77b4","#ff7f0e"]},"legend":{"title":null,"labelExpr":"datum.label=='l'?'Glycolysis low':'Glycolysis high cluster (enriched for IDH wild-type)'"}}}}]}
],"spacing":8,"resolve":{"scale":{"color":"independent"},"legend":{"color":"independent"}}}
],"spacing":0,"resolve":{"scale":{"color":"independent"},"legend":{"color":"independent"}}}
],"spacing":29,"resolve":{"scale":{"color":"independent"},"legend":{"color":"independent"}}}
]
}
